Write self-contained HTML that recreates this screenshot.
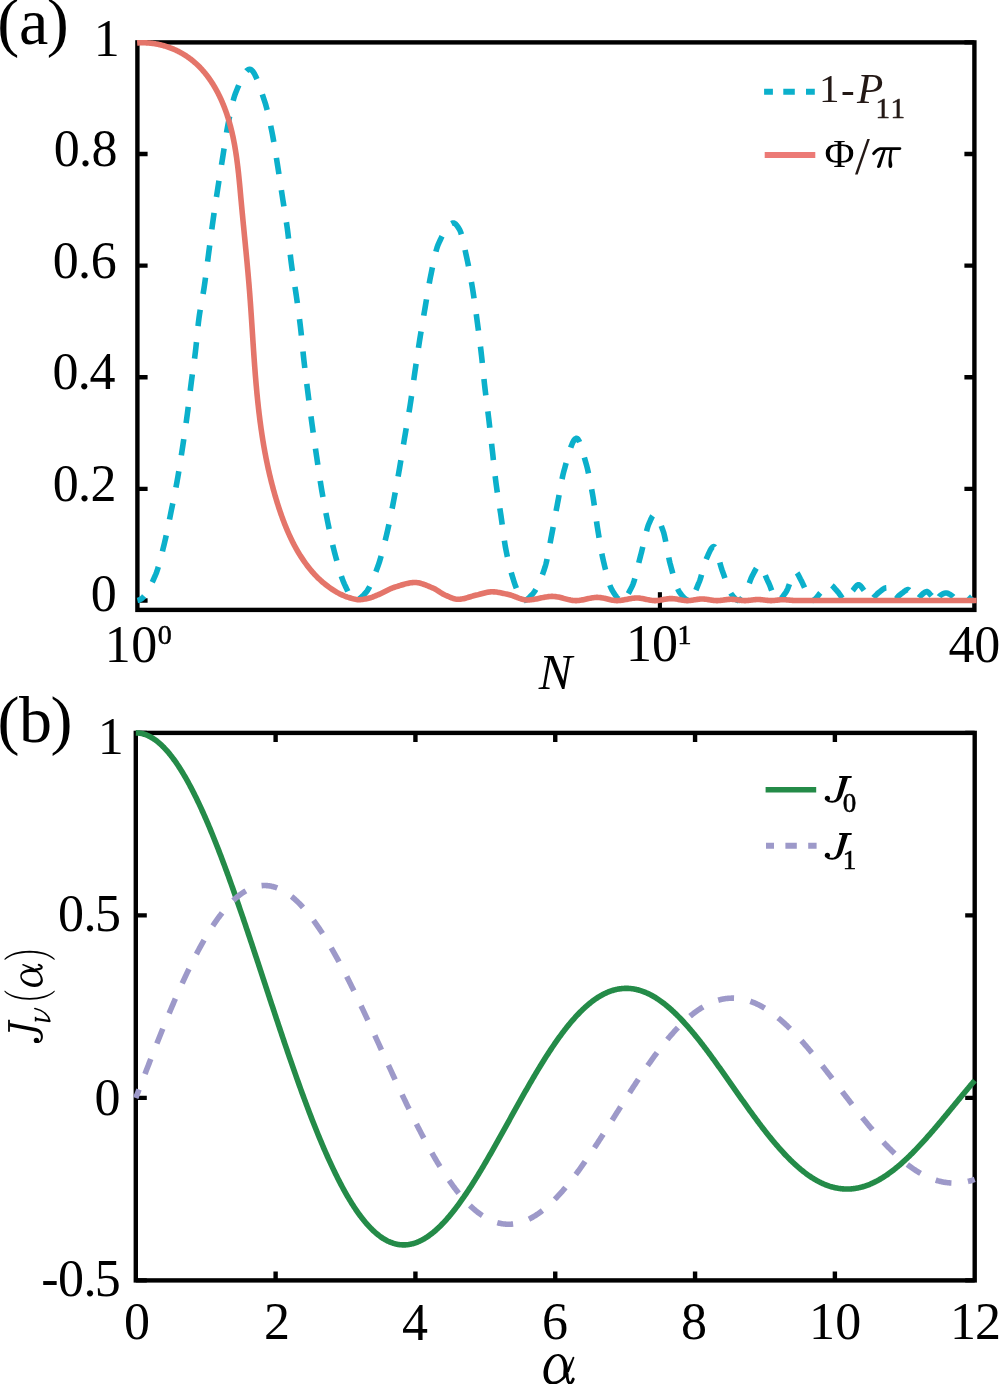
<!DOCTYPE html><html><head><meta charset="utf-8"><style>html,body{margin:0;padding:0;background:#fff;}svg{display:block;}text{font-family:'Liberation Serif', serif;}</style></head><body>
<svg width="1000" height="1384" viewBox="0 0 1000 1384">
<rect width="1000" height="1384" fill="#fff"/>
<rect x="137.4" y="42.4" width="837.0" height="567.5" fill="none" stroke="#000" stroke-width="4.4" stroke-linejoin="miter"/><path d="M137.4 600.50H147.6M974.4 600.50H964.4" stroke="#000" stroke-width="4.4"/><path d="M137.4 488.88H147.6M974.4 488.88H964.4" stroke="#000" stroke-width="4.4"/><path d="M137.4 377.26H147.6M974.4 377.26H964.4" stroke="#000" stroke-width="4.4"/><path d="M137.4 265.64H147.6M974.4 265.64H964.4" stroke="#000" stroke-width="4.4"/><path d="M137.4 154.02H147.6M974.4 154.02H964.4" stroke="#000" stroke-width="4.4"/><path d="M137.4 42.40H147.6M974.4 42.40H964.4" stroke="#000" stroke-width="4.4"/><path d="M659.9 609.9V592.2" stroke="#000" stroke-width="4.1"/>
<path d="M137.4 600.5L137.9 600.39L138.4 600.25L138.9 600.07L139.4 599.85L139.9 599.61L140.4 599.34L140.9 599.06L141.4 598.75L141.9 598.38L142.4 597.98L142.9 597.52L143.4 597.02L143.9 596.48L144.4 595.89L144.9 595.27L145.4 594.6L145.9 593.9L146.4 593.16L146.9 592.38L147.4 591.57L147.9 590.73L148.4 589.86L148.9 588.96L149.4 588.03L149.9 587.07L150.4 586.09L150.9 585.08L151.4 584.05L151.9 583L152.4 581.93L152.9 580.84L153.4 579.74L153.9 578.61L154.4 577.48L154.9 576.33L155.4 575.17L155.9 573.98L156.4 572.69L156.9 571.3L157.4 569.83L157.9 568.26L158.4 566.62L158.9 564.9L159.4 563.13L159.9 561.29L160.4 559.4L160.9 557.47L161.4 555.5L161.9 553.5L162.4 551.48L162.9 549.44L163.4 547.39L163.9 545.34L164.4 543.29L164.9 541.19L165.4 539.01L165.9 536.77L166.4 534.47L166.9 532.12L167.4 529.73L167.9 527.31L168.4 524.85L168.9 522.39L169.4 519.91L169.9 517.43L170.4 514.95L170.9 512.49L171.4 510.05L171.9 507.62L172.4 505.19L172.9 502.76L173.4 500.32L173.9 497.87L174.4 495.38L174.9 492.87L175.4 490.32L175.9 487.73L176.4 485.08L176.9 482.37L177.4 479.6L177.9 476.75L178.4 473.81L178.9 470.8L179.4 467.72L179.9 464.59L180.4 461.4L180.9 458.18L181.4 454.93L181.9 451.65L182.4 448.36L182.9 445.05L183.4 441.72L183.9 438.36L184.4 434.96L184.9 431.51L185.4 428.02L185.9 424.48L186.4 420.88L186.9 417.22L187.4 413.5L187.9 409.63L188.4 405.65L188.9 401.59L189.4 397.49L189.9 393.39L190.4 389.33L190.9 385.34L191.4 381.47L191.9 377.74L192.4 374.12L192.9 370.56L193.4 367L193.9 363.4L194.4 359.71L194.9 355.88L195.4 351.87L195.9 347.55L196.4 342.73L196.9 337.61L197.4 332.42L197.9 327.39L198.4 322.76L198.9 318.75L199.4 315.21L199.9 311.94L200.4 308.9L200.9 306.02L201.4 303.25L201.9 300.52L202.4 297.79L202.9 294.99L203.4 292.07L203.9 288.97L204.4 285.64L204.9 282.12L205.4 278.45L205.9 274.67L206.4 270.81L206.9 266.9L207.4 262.99L207.9 259.09L208.4 255.26L208.9 251.46L209.4 247.64L209.9 243.79L210.4 239.95L210.9 236.12L211.4 232.32L211.9 228.57L212.4 224.89L212.9 221.29L213.4 217.75L213.9 214.26L214.4 210.81L214.9 207.4L215.4 204.03L215.9 200.69L216.4 197.38L216.9 194.08L217.4 190.81L217.9 187.55L218.4 184.33L218.9 181.14L219.4 177.97L219.9 174.83L220.4 171.7L220.9 168.59L221.4 165.48L221.9 162.37L222.4 159.25L222.9 156.11L223.4 152.89L223.9 149.62L224.4 146.32L224.9 143.03L225.4 139.77L225.9 136.58L226.4 133.48L226.9 130.49L227.4 127.66L227.9 125.01L228.4 122.49L228.9 120L229.4 117.53L229.9 115.1L230.4 112.71L230.9 110.38L231.4 108.11L231.9 105.92L232.4 103.81L232.9 101.8L233.4 99.89L233.9 98.1L234.4 96.43L234.9 94.9L235.4 93.51L235.9 92.25L236.4 91L236.9 89.76L237.4 88.52L237.9 87.29L238.4 86.08L238.9 84.88L239.4 83.7L239.9 82.54L240.4 81.42L240.9 80.32L241.4 79.25L241.9 78.22L242.4 77.23L242.9 76.28L243.4 75.38L243.9 74.52L244.4 73.72L244.9 72.98L245.4 72.29L245.9 71.67L246.4 71.11L246.9 70.62L247.4 70.2L247.9 69.86L248.4 69.6L248.9 69.41L249.4 69.32L249.9 69.31L250.4 69.41L250.9 69.62L251.4 69.94L251.9 70.35L252.4 70.87L252.9 71.47L253.4 72.16L253.9 72.94L254.4 73.79L254.9 74.72L255.4 75.72L255.9 76.78L256.4 77.9L256.9 79.08L257.4 80.32L257.9 81.6L258.4 82.92L258.9 84.28L259.4 85.68L259.9 87.11L260.4 88.56L260.9 90.04L261.4 91.53L261.9 93.04L262.4 94.55L262.9 96.07L263.4 97.59L263.9 99.1L264.4 100.61L264.9 102.1L265.4 103.67L265.9 105.35L266.4 107.14L266.9 109.02L267.4 111L267.9 113.06L268.4 115.2L268.9 117.41L269.4 119.69L269.9 122.02L270.4 124.4L270.9 126.83L271.4 129.29L271.9 131.78L272.4 134.3L272.9 136.9L273.4 139.64L273.9 142.49L274.4 145.45L274.9 148.49L275.4 151.59L275.9 154.74L276.4 157.92L276.9 161.1L277.4 164.28L277.9 167.43L278.4 170.6L278.9 173.83L279.4 177.08L279.9 180.37L280.4 183.68L280.9 186.99L281.4 190.3L281.9 193.61L282.4 196.89L282.9 200.14L283.4 203.3L283.9 206.41L284.4 209.49L284.9 212.58L285.4 215.7L285.9 218.9L286.4 222.19L286.9 225.62L287.4 229.21L287.9 233.04L288.4 237.28L288.9 241.8L289.4 246.48L289.9 251.17L290.4 255.73L290.9 260.04L291.4 263.95L291.9 267.55L292.4 270.94L292.9 274.19L293.4 277.32L293.9 280.39L294.4 283.44L294.9 286.53L295.4 289.68L295.9 292.96L296.4 296.4L296.9 299.92L297.4 303.47L297.9 307.07L298.4 310.74L298.9 314.51L299.4 318.37L299.9 322.37L300.4 326.5L300.9 330.85L301.4 335.58L301.9 340.56L302.4 345.66L302.9 350.72L303.4 355.61L303.9 360.19L304.4 364.54L304.9 368.76L305.4 372.88L305.9 376.92L306.4 380.9L306.9 384.84L307.4 388.77L307.9 392.7L308.4 396.63L308.9 400.53L309.4 404.41L309.9 408.25L310.4 412.06L310.9 415.83L311.4 419.57L311.9 423.27L312.4 426.92L312.9 430.54L313.4 434.12L313.9 437.68L314.4 441.2L314.9 444.69L315.4 448.16L315.9 451.61L316.4 455.04L316.9 458.45L317.4 461.88L317.9 465.3L318.4 468.72L318.9 472.11L319.4 475.46L319.9 478.76L320.4 481.99L320.9 485.15L321.4 488.21L321.9 491.17L322.4 494.07L322.9 496.92L323.4 499.73L323.9 502.48L324.4 505.18L324.9 507.84L325.4 510.46L325.9 513.03L326.4 515.57L326.9 518.06L327.4 520.53L327.9 522.96L328.4 525.37L328.9 527.77L329.4 530.15L329.9 532.5L330.4 534.82L330.9 537.11L331.4 539.36L331.9 541.58L332.4 543.74L332.9 545.86L333.4 547.93L333.9 549.94L334.4 551.89L334.9 553.77L335.4 555.64L335.9 557.49L336.4 559.34L336.9 561.17L337.4 562.99L337.9 564.78L338.4 566.54L338.9 568.27L339.4 569.97L339.9 571.63L340.4 573.24L340.9 574.81L341.4 576.32L341.9 577.78L342.4 579.18L342.9 580.51L343.4 581.77L343.9 582.96L344.4 584.08L344.9 585.13L345.4 586.19L345.9 587.26L346.4 588.33L346.9 589.4L347.4 590.46L347.9 591.51L348.4 592.53L348.9 593.52L349.4 594.47L349.9 595.38L350.4 596.24L350.9 597.04L351.4 597.77L351.9 598.43L352.4 599.01L352.9 599.51L353.4 599.91L353.9 600.22L354.4 600.41L354.9 600.5L355 600.5" fill="none" stroke="#0BB0CB" stroke-width="5.6" stroke-dasharray="16.5 16.1" stroke-dashoffset="8.26" stroke-linejoin="round"/>
<path d="M355 600.5L355.5 600.47L356 600.4L356.5 600.28L357 600.11L357.5 599.91L358 599.66L358.5 599.38L359 599.06L359.5 598.71L360 598.34L360.5 597.93L361 597.51L361.5 597.06L362 596.59L362.5 596.11L363 595.61L363.5 595.1L364 594.58L364.5 594.06L365 593.53L365.5 593L366 592.44L366.5 591.82L367 591.13L367.5 590.4L368 589.6L368.5 588.76L369 587.86L369.5 586.92L370 585.93L370.5 584.9L371 583.83L371.5 582.72L372 581.58L372.5 580.4L373 579.2L373.5 577.96L374 576.7L374.5 575.42L375 574.12L375.5 572.8L376 571.46L376.5 570.11L377 568.75L377.5 567.38L378 566L378.5 564.59L379 563.11L379.5 561.56L380 559.95L380.5 558.29L381 556.57L381.5 554.8L382 552.99L382.5 551.13L383 549.23L383.5 547.29L384 545.32L384.5 543.33L385 541.3L385.5 539.25L386 537.18L386.5 535.1L387 533L387.5 530.86L388 528.66L388.5 526.39L389 524.06L389.5 521.69L390 519.27L390.5 516.81L391 514.31L391.5 511.79L392 509.24L392.5 506.68L393 504.1L393.5 501.52L394 498.92L394.5 496.29L395 493.62L395.5 490.91L396 488.18L396.5 485.42L397 482.64L397.5 479.83L398 477L398.5 474.16L399 471.3L399.5 468.42L400 465.51L400.5 462.56L401 459.58L401.5 456.57L402 453.54L402.5 450.5L403 447.46L403.5 444.42L404 441.39L404.5 438.39L405 435.42L405.5 432.49L406 429.6L406.5 426.73L407 423.88L407.5 421.02L408 418.13L408.5 415.22L409 412.25L409.5 409.22L410 406.11L410.5 402.9L411 399.57L411.5 396.13L412 392.6L412.5 389.01L413 385.4L413.5 381.79L414 378.2L414.5 374.67L415 371.22L415.5 367.79L416 364.37L416.5 360.96L417 357.58L417.5 354.21L418 350.88L418.5 347.58L419 344.33L419.5 341.13L420 337.99L420.5 334.89L421 331.83L421.5 328.8L422 325.8L422.5 322.83L423 319.89L423.5 316.95L424 314.03L424.5 311.11L425 308.2L425.5 305.26L426 302.3L426.5 299.31L427 296.33L427.5 293.36L428 290.42L428.5 287.53L429 284.71L429.5 281.97L430 279.32L430.5 276.78L431 274.34L431.5 271.88L432 269.42L432.5 266.95L433 264.51L433.5 262.11L434 259.76L434.5 257.48L435 255.29L435.5 253.21L436 251.25L436.5 249.43L437 247.76L437.5 246.27L438 244.96L438.5 243.83L439 242.72L439.5 241.62L440 240.54L440.5 239.47L441 238.41L441.5 237.37L442 236.36L442.5 235.36L443 234.39L443.5 233.45L444 232.53L444.5 231.65L445 230.79L445.5 229.97L446 229.19L446.5 228.44L447 227.73L447.5 227.07L448 226.44L448.5 225.87L449 225.34L449.5 224.86L450 224.42L450.5 224.05L451 223.72L451.5 223.46L452 223.25L452.5 223.11L453 223.02L453.5 223L454 223.09L454.5 223.29L455 223.6L455.5 224L456 224.49L456.5 225.05L457 225.68L457.5 226.36L458 227.1L458.5 227.86L459 228.65L459.5 229.47L460 230.46L460.5 231.69L461 233.14L461.5 234.78L462 236.59L462.5 238.55L463 240.63L463.5 242.8L464 245.06L464.5 247.36L465 249.69L465.5 252.02L466 254.33L466.5 256.6L467 258.88L467.5 261.22L468 263.64L468.5 266.13L469 268.68L469.5 271.31L470 274L470.5 276.75L471 279.57L471.5 282.45L472 285.39L472.5 288.39L473 291.48L473.5 294.72L474 298.07L474.5 301.54L475 305.09L475.5 308.71L476 312.38L476.5 316.09L477 319.81L477.5 323.54L478 327.29L478.5 331.08L479 334.93L479.5 338.85L480 342.84L480.5 346.93L481 351.13L481.5 355.46L482 360.06L482.5 364.88L483 369.8L483.5 374.74L484 379.58L484.5 384.22L485 388.59L485.5 392.78L486 396.82L486.5 400.79L487 404.71L487.5 408.64L488 412.63L488.5 416.72L489 420.95L489.5 425.26L490 429.64L490.5 434.07L491 438.52L491.5 442.99L492 447.45L492.5 451.89L493 456.42L493.5 461.05L494 465.7L494.5 470.29L495 474.76L495.5 479.02L496 483L496.5 486.71L497 490.24L497.5 493.61L498 496.86L498.5 500.04L499 503.17L499.5 506.3L500 509.45L500.5 512.68L501 516L501.5 519.49L502 523.14L502.5 526.88L503 530.64L503.5 534.36L504 537.97L504.5 541.4L505 544.59L505.5 547.47L506 550.07L506.5 552.57L507 554.99L507.5 557.33L508 559.58L508.5 561.76L509 563.87L509.5 565.9L510 567.87L510.5 569.77L511 571.61L511.5 573.39L512 575.12L512.5 576.79L513 578.42L513.5 580L514 581.55L514.5 583.06L515 584.53L515.5 585.96L516 587.32L516.5 588.63L517 589.85L517.5 591L518 592.05L518.5 593L519 593.92L519.5 594.86L520 595.8L520.5 596.71L521 597.58L521.5 598.37L522 599.08L522.5 599.67L523 600.11L523.5 600.4L524 600.5" fill="none" stroke="#0BB0CB" stroke-width="5.6" stroke-dasharray="16.5 16.1" stroke-dashoffset="28.18" stroke-linejoin="round"/>
<path d="M524 600.5L524.5 600.47L525 600.37L525.5 600.2L526 599.99L526.5 599.71L527 599.4L527.5 599.04L528 598.64L528.5 598.2L529 597.74L529.5 597.26L530 596.75L530.5 596.23L531 595.7L531.5 595.16L532 594.62L532.5 594.08L533 593.51L533.5 592.88L534 592.22L534.5 591.51L535 590.75L535.5 589.95L536 589.11L536.5 588.23L537 587.3L537.5 586.33L538 585.33L538.5 584.28L539 583.19L539.5 582.06L540 580.9L540.5 579.69L541 578.45L541.5 577.17L542 575.85L542.5 574.5L543 573.11L543.5 571.68L544 570.22L544.5 568.73L545 567.2L545.5 565.54L546 563.65L546.5 561.57L547 559.32L547.5 556.92L548 554.41L548.5 551.81L549 549.14L549.5 546.43L550 543.7L550.5 540.99L551 538.32L551.5 535.71L552 533.14L552.5 530.53L553 527.87L553.5 525.18L554 522.46L554.5 519.73L555 517L555.5 514.26L556 511.54L556.5 508.83L557 506.16L557.5 503.52L558 500.89L558.5 498.18L559 495.42L559.5 492.64L560 489.86L560.5 487.11L561 484.41L561.5 481.79L562 479.27L562.5 476.88L563 474.65L563.5 472.6L564 470.74L564.5 468.94L565 467.13L565.5 465.3L566 463.47L566.5 461.65L567 459.84L567.5 458.05L568 456.29L568.5 454.56L569 452.89L569.5 451.26L570 449.69L570.5 448.19L571 446.77L571.5 445.43L572 444.18L572.5 443.03L573 441.98L573.5 441.05L574 440.24L574.5 439.56L575 439.02L575.5 438.63L576 438.38L576.5 438.3L577 438.41L577.5 438.75L578 439.28L578.5 440L579 440.9L579.5 441.95L580 443.15L580.5 444.47L581 445.91L581.5 447.45L582 449.06L582.5 450.75L583 452.49L583.5 454.27L584 456.07L584.5 457.88L585 459.68L585.5 461.46L586 463.2L586.5 464.98L587 466.89L587.5 468.91L588 471.04L588.5 473.27L589 475.59L589.5 478.01L590 480.5L590.5 483.07L591 485.71L591.5 488.41L592 491.17L592.5 493.97L593 496.86L593.5 500.01L594 503.37L594.5 506.9L595 510.52L595.5 514.17L596 517.8L596.5 521.34L597 524.73L597.5 527.92L598 531.04L598.5 534.16L599 537.27L599.5 540.33L600 543.34L600.5 546.27L601 549.11L601.5 551.84L602 554.44L602.5 556.89L603 559.17L603.5 561.32L604 563.45L604.5 565.56L605 567.65L605.5 569.69L606 571.7L606.5 573.66L607 575.56L607.5 577.39L608 579.16L608.5 580.85L609 582.46L609.5 583.98L610 585.4L610.5 586.72L611 587.93L611.5 589.02L612 589.98L612.5 590.83L613 591.65L613.5 592.46L614 593.25L614.5 594.03L615 594.79L615.5 595.52L616 596.22L616.5 596.89L617 597.51L617.5 598.09L618 598.61L618.5 599.09L619 599.5L619.5 599.85L620 600.13L620.5 600.33L621 600.46L621.5 600.5" fill="none" stroke="#0BB0CB" stroke-width="5.6" stroke-dasharray="16.5 16.1" stroke-dashoffset="32.48" stroke-linejoin="round"/>
<path d="M621.5 600.5L622 600.45L622.5 600.31L623 600.09L623.5 599.78L624 599.39L624.5 598.93L625 598.4L625.5 597.81L626 597.16L626.5 596.46L627 595.7L627.5 594.91L628 594.07L628.5 593.2L629 592.29L629.5 591.36L630 590.41L630.5 589.45L631 588.47L631.5 587.49L632 586.5L632.5 585.43L633 584.19L633.5 582.81L634 581.29L634.5 579.65L635 577.91L635.5 576.08L636 574.17L636.5 572.2L637 570.19L637.5 568.14L638 566.08L638.5 564.01L639 561.96L639.5 559.93L640 557.95L640.5 556.02L641 554.15L641.5 552.21L642 550.19L642.5 548.11L643 545.97L643.5 543.82L644 541.65L644.5 539.49L645 537.36L645.5 535.27L646 533.25L646.5 531.31L647 529.48L647.5 527.76L648 526.19L648.5 524.77L649 523.53L649.5 522.4L650 521.26L650.5 520.13L651 519.03L651.5 517.99L652 517.03L652.5 516.19L653 515.49L653.5 514.96L654 514.62L654.5 514.5L655 514.58L655.5 514.83L656 515.23L656.5 515.76L657 516.43L657.5 517.22L658 518.11L658.5 519.1L659 520.18L659.5 521.33L660 522.55L660.5 523.83L661 525.14L661.5 526.5L662 527.87L662.5 529.26L663 530.65L663.5 532.09L664 533.82L664.5 535.82L665 538.05L665.5 540.46L666 543.01L666.5 545.65L667 548.35L667.5 551.05L668 553.72L668.5 556.31L669 558.77L669.5 561.06L670 563.14L670.5 565.01L671 566.88L671.5 568.74L672 570.6L672.5 572.44L673 574.27L673.5 576.06L674 577.81L674.5 579.52L675 581.17L675.5 582.76L676 584.28L676.5 585.72L677 587.07L677.5 588.32L678 589.47L678.5 590.51L679 591.43L679.5 592.22L680 592.9L680.5 593.56L681 594.21L681.5 594.85L682 595.47L682.5 596.07L683 596.64L683.5 597.19L684 597.71L684.5 598.19L685 598.64L685.5 599.05L686 599.42L686.5 599.73L687 600L687.5 600.21L688 600.37L688.5 600.47L689 600.5" fill="none" stroke="#0BB0CB" stroke-width="5.6" stroke-dasharray="16.5 16.1" stroke-dashoffset="22.57" stroke-linejoin="round"/>
<path d="M689 600.5L689.5 600.42L690 600.21L690.5 599.85L691 599.38L691.5 598.78L692 598.08L692.5 597.29L693 596.41L693.5 595.45L694 594.42L694.5 593.33L695 592.2L695.5 591.02L696 589.82L696.5 588.6L697 587.36L697.5 586.12L698 584.9L698.5 583.68L699 582.5L699.5 581.24L700 579.83L700.5 578.28L701 576.63L701.5 574.89L702 573.09L702.5 571.26L703 569.43L703.5 567.61L704 565.83L704.5 564.13L705 562.52L705.5 561.03L706 559.68L706.5 558.5L707 557.4L707.5 556.27L708 555.13L708.5 554L709 552.9L709.5 551.83L710 550.81L710.5 549.87L711 549.01L711.5 548.25L712 547.6L712.5 547.09L713 546.73L713.5 546.53L714 546.53L714.5 546.83L715 547.43L715.5 548.31L716 549.43L716.5 550.76L717 552.26L717.5 553.91L718 555.67L718.5 557.51L719 559.4L719.5 561.31L720 563.2L720.5 565.05L721 566.81L721.5 568.47L722 569.98L722.5 571.33L723 572.68L723.5 574.06L724 575.47L724.5 576.89L725 578.32L725.5 579.75L726 581.18L726.5 582.59L727 583.98L727.5 585.33L728 586.65L728.5 587.93L729 589.15L729.5 590.31L730 591.41L730.5 592.43L731 593.37L731.5 594.21L732 594.96L732.5 595.6L733 596.19L733.5 596.78L734 597.35L734.5 597.91L735 598.44L735.5 598.93L736 599.37L736.5 599.75L737 600.06L737.5 600.3L738 600.45L738.5 600.5" fill="none" stroke="#0BB0CB" stroke-width="5.6" stroke-dasharray="16.5 16.1" stroke-dashoffset="19.75" stroke-linejoin="round"/>
<path d="M738.5 600.5L739 600.43L739.5 600.25L740 599.95L740.5 599.55L741 599.06L741.5 598.51L742 597.88L742.5 597.21L743 596.5L743.5 595.76L744 595L744.5 594.25L745 593.5L745.5 592.68L746 591.71L746.5 590.62L747 589.42L747.5 588.13L748 586.79L748.5 585.4L749 583.99L749.5 582.59L750 581.21L750.5 579.88L751 578.61L751.5 577.43L752 576.36L752.5 575.42L753 574.5L753.5 573.54L754 572.58L754.5 571.61L755 570.66L755.5 569.75L756 568.88L756.5 568.08L757 567.35L757.5 566.73L758 566.21L758.5 565.83L759 565.58L759.5 565.5L760 565.61L760.5 565.91L761 566.4L761.5 567.04L762 567.83L762.5 568.74L763 569.76L763.5 570.86L764 572.02L764.5 573.23L765 574.47L765.5 575.72L766 576.95L766.5 578.16L767 579.31L767.5 580.39L768 581.4L768.5 582.44L769 583.57L769.5 584.78L770 586.05L770.5 587.36L771 588.69L771.5 590.03L772 591.36L772.5 592.66L773 593.92L773.5 595.12L774 596.24L774.5 597.27L775 598.19L775.5 598.97L776 599.62L776.5 600.1L777 600.4L777.5 600.5" fill="none" stroke="#0BB0CB" stroke-width="5.6" stroke-dasharray="16.5 16.1" stroke-dashoffset="11.63" stroke-linejoin="round"/>
<path d="M777.5 600.5L778 600.45L778.5 600.32L779 600.1L779.5 599.8L780 599.44L780.5 599.01L781 598.53L781.5 598L782 597.43L782.5 596.83L783 596.2L783.5 595.54L784 594.88L784.5 594.2L785 593.53L785.5 592.86L786 592.17L786.5 591.32L787 590.32L787.5 589.18L788 587.94L788.5 586.6L789 585.21L789.5 583.78L790 582.33L790.5 580.88L791 579.46L791.5 578.1L792 576.81L792.5 575.62L793 574.55L793.5 573.62L794 572.86L794.5 572.29L795 571.93L795.5 571.8L796 571.92L796.5 572.27L797 572.81L797.5 573.51L798 574.34L798.5 575.26L799 576.25L799.5 577.27L800 578.29L800.5 579.28L801 580.2L801.5 581.12L802 582.11L802.5 583.16L803 584.24L803.5 585.34L804 586.44L804.5 587.53L805 588.58L805.5 589.57L806 590.5L806.5 591.42L807 592.41L807.5 593.43L808 594.46L808.5 595.48L809 596.47L809.5 597.4L810 598.25L810.5 599L811 599.62L811.5 600.09L812 600.39L812.5 600.5" fill="none" stroke="#0BB0CB" stroke-width="5.6" stroke-dasharray="16.5 16.1" stroke-dashoffset="28.10" stroke-linejoin="round"/>
<path d="M812.5 600.5L813 600.44L813.5 600.28L814 600.02L814.5 599.68L815 599.26L815.5 598.78L816 598.25L816.5 597.67L817 597.06L817.5 596.42L818 595.77L818.5 595.12L819 594.48L819.5 593.86L820 593.26L820.5 592.71L821 592.19L821.5 591.64L822 591.04L822.5 590.4L823 589.73L823.5 589.05L824 588.37L824.5 587.7L825 587.05L825.5 586.43L826 585.85L826.5 585.34L827 584.89L827.5 584.52L828 584.24L828.5 584.06L829 584L829.5 584.05L830 584.18L830.5 584.4L831 584.69L831.5 585.05L832 585.46L832.5 585.93L833 586.43L833.5 586.97L834 587.53L834.5 588.11L835 588.7L835.5 589.29L836 589.87L836.5 590.44L837 590.99L837.5 591.5L838 592.04L838.5 592.64L839 593.31L839.5 594.02L840 594.76L840.5 595.51L841 596.26L841.5 596.99L842 597.69L842.5 598.35L843 598.94L843.5 599.47L844 599.9L844.5 600.22L845 600.43L845.5 600.5" fill="none" stroke="#0BB0CB" stroke-width="5.6" stroke-dasharray="16.5 16.1" stroke-dashoffset="5.43" stroke-linejoin="round"/>
<path d="M845.5 600.5L846 600.4L846.5 600.11L847 599.66L847.5 599.07L848 598.37L848.5 597.57L849 596.71L849.5 595.81L850 594.89L850.5 593.97L851 593.08L851.5 592.24L852 591.48L852.5 590.82L853 590.22L853.5 589.58L854 588.92L854.5 588.25L855 587.59L855.5 586.96L856 586.38L856.5 585.86L857 585.42L857.5 585.09L858 584.88L858.5 584.8L859 584.88L859.5 585.11L860 585.47L860.5 585.93L861 586.47L861.5 587.08L862 587.73L862.5 588.4L863 589.07L863.5 589.71L864 590.32L864.5 591L865 591.79L865.5 592.66L866 593.59L866.5 594.56L867 595.53L867.5 596.49L868 597.4L868.5 598.24L869 598.98L869.5 599.61L870 600.09L870.5 600.39L871 600.5" fill="none" stroke="#0BB0CB" stroke-width="5.6" stroke-dasharray="16.5 16.1" stroke-dashoffset="20.16" stroke-linejoin="round"/>
<path d="M871 600.5L871.5 600.34L872 599.91L872.5 599.3L873 598.59L873.5 597.87L874 597.22L874.5 596.69L875 596.17L875.5 595.65L876 595.13L876.5 594.62L877 594.11L877.5 593.63L878 593.16L878.5 592.72L879 592.31L879.5 591.93L880 591.54L880.5 591.15L881 590.74L881.5 590.34L882 589.95L882.5 589.57L883 589.21L883.5 588.87L884 588.57L884.5 588.31L885 588.1L885.5 587.94L886 587.84L886.5 587.8L887 587.91L887.5 588.2L888 588.66L888.5 589.23L889 589.88L889.5 590.59L890 591.31L890.5 592L891 592.82L891.5 593.88L892 595.1L892.5 596.37L893 597.62L893.5 598.74L894 599.66L894.5 600.27L895 600.5" fill="none" stroke="#0BB0CB" stroke-width="5.6" stroke-dasharray="16.5 16.1" stroke-dashoffset="28.79" stroke-linejoin="round"/>
<path d="M895 600.5L895.5 600.24L896 599.6L896.5 598.74L897 597.85L897.5 597.11L898 596.58L898.5 596.09L899 595.62L899.5 595.17L900 594.75L900.5 594.34L901 593.95L901.5 593.58L902 593.21L902.5 592.86L903 592.48L903.5 592.08L904 591.68L904.5 591.29L905 590.91L905.5 590.55L906 590.24L906.5 589.98L907 589.78L907.5 589.65L908 589.6L908.5 589.71L909 590.01L909.5 590.47L910 591.05L910.5 591.72L911 592.43L911.5 593.16L912 593.86L912.5 594.5L913 595.18L913.5 595.98L914 596.85L914.5 597.74L915 598.59L915.5 599.34L916 599.95L916.5 600.35L917 600.5" fill="none" stroke="#0BB0CB" stroke-width="5.6" stroke-dasharray="16.5 16.1" stroke-dashoffset="30.22" stroke-linejoin="round"/>
<path d="M917 600.5L917.5 600.26L918 599.65L918.5 598.82L919 597.93L919.5 597.15L920 596.6L920.5 596.11L921 595.6L921.5 595.1L922 594.6L922.5 594.13L923 593.67L923.5 593.24L924 592.84L924.5 592.49L925 592.19L925.5 591.94L926 591.76L926.5 591.64L927 591.6L927.5 591.71L928 592.02L928.5 592.47L929 593.01L929.5 593.6L930 594.18L930.5 594.71L931 595.2L931.5 595.75L932 596.36L932.5 597L933 597.64L933.5 598.27L934 598.86L934.5 599.39L935 599.84L935.5 600.19L936 600.42L936.5 600.5" fill="none" stroke="#0BB0CB" stroke-width="5.6" stroke-dasharray="16.5 16.1" stroke-dashoffset="28.92" stroke-linejoin="round"/>
<path d="M936.5 600.5L937 600.29L937.5 599.74L938 598.95L938.5 598.03L939 597.11L939.5 596.28L940 595.66L940.5 595.3L941 594.97L941.5 594.65L942 594.35L942.5 594.06L943 593.81L943.5 593.58L944 593.38L944.5 593.22L945 593.1L945.5 593.03L946 593L946.5 593.03L947 593.11L947.5 593.24L948 593.42L948.5 593.63L949 593.88L949.5 594.16L950 594.46L950.5 594.78L951 595.12L951.5 595.47L952 595.83L952.5 596.19L953 596.56L953.5 597.1L954 597.77L954.5 598.49L955 599.21L955.5 599.83L956 600.28L956.5 600.49L956.6 600.5" fill="none" stroke="#0BB0CB" stroke-width="5.6" stroke-dasharray="16.5 16.1" stroke-dashoffset="27.90" stroke-linejoin="round"/>
<path d="M956.6 600.5L957.1 600.44L957.6 600.28L958.1 600.02L958.6 599.68L959.1 599.29L959.6 598.84L960.1 598.36L960.6 597.85L961.1 597.35L961.6 596.85L962.1 596.37L962.6 595.93L963.1 595.54L963.6 595.22L964.1 594.98L964.6 594.84L965.1 594.8L965.6 594.89L966.1 595.07L966.6 595.35L967.1 595.71L967.6 596.13L968.1 596.59L968.6 597.09L969.1 597.6L969.6 598.11L970.1 598.61L970.6 599.08L971.1 599.51L971.6 599.88L972.1 600.18L972.6 600.39L973.1 600.49L973.6 600.46L974.1 600.25L974.4 600.1" fill="none" stroke="#0BB0CB" stroke-width="5.6" stroke-dasharray="16.5 16.1" stroke-dashoffset="18.68" stroke-linejoin="round"/>
<path d="M137.13 42.95L137.9 42.9L138.66 42.86L139.42 42.82L140.19 42.8L140.95 42.78L141.71 42.77L142.47 42.76L143.22 42.76L143.98 42.78L144.74 42.79L145.49 42.82L146.25 42.85L147 42.89L147.75 42.94L148.5 42.99L149.25 43.05L149.99 43.12L150.74 43.2L151.48 43.28L152.23 43.37L152.97 43.47L153.71 43.57L154.44 43.68L155.18 43.8L155.92 43.92L156.65 44.06L157.38 44.19L158.11 44.34L158.83 44.49L159.56 44.65L160.28 44.81L161 44.99L161.72 45.16L162.44 45.35L163.15 45.54L163.86 45.74L164.57 45.94L165.28 46.15L165.99 46.37L166.69 46.6L167.39 46.83L168.09 47.06L168.78 47.31L169.48 47.56L170.17 47.81L170.86 48.07L171.54 48.34L172.22 48.61L172.9 48.89L173.58 49.18L174.25 49.47L174.92 49.77L175.59 50.08L176.25 50.39L176.92 50.7L177.57 51.02L178.23 51.35L178.88 51.69L179.53 52.03L180.18 52.37L180.82 52.72L181.46 53.08L182.09 53.44L182.73 53.81L183.35 54.18L183.98 54.56L184.6 54.95L185.22 55.34L185.83 55.73L186.44 56.13L187.05 56.54L187.65 56.95L188.25 57.37L188.85 57.79L189.44 58.22L190.03 58.65L190.61 59.09L191.19 59.54L191.76 59.99L192.34 60.44L192.9 60.9L193.47 61.36L194.02 61.83L194.58 62.31L195.13 62.79L195.67 63.27L196.21 63.76L196.75 64.25L197.28 64.75L197.81 65.26L198.33 65.76L198.85 66.28L199.37 66.79L199.88 67.31L200.38 67.84L200.88 68.37L201.38 68.91L201.88 69.44L202.36 69.99L202.85 70.53L203.33 71.09L203.81 71.64L204.28 72.2L204.75 72.76L205.21 73.33L205.67 73.9L206.13 74.47L206.58 75.05L207.03 75.63L207.47 76.22L207.91 76.8L208.34 77.39L208.78 77.99L209.2 78.59L209.63 79.19L210.05 79.79L210.46 80.4L210.87 81.01L211.28 81.62L211.68 82.24L212.08 82.85L212.48 83.48L212.87 84.1L213.26 84.73L213.64 85.35L214.03 85.99L214.4 86.62L214.78 87.26L215.14 87.89L215.51 88.53L215.87 89.18L216.23 89.82L216.58 90.47L216.93 91.12L217.28 91.77L217.62 92.42L217.96 93.08L218.3 93.73L218.63 94.39L218.96 95.05L219.29 95.71L219.61 96.37L219.92 97.04L220.24 97.7L220.55 98.37L220.86 99.04L221.16 99.7L221.46 100.37L221.76 101.04L222.05 101.72L222.34 102.39L222.63 103.06L222.91 103.74L223.19 104.42L223.47 105.09L223.74 105.77L224.01 106.45L224.28 107.13L224.54 107.81L224.8 108.49L225.06 109.18L225.31 109.86L225.56 110.54L225.81 111.23L226.06 111.92L226.3 112.61L226.54 113.29L226.77 113.98L227 114.67L227.23 115.37L227.46 116.06L227.69 116.75L227.91 117.44L228.12 118.14L228.34 118.84L228.55 119.53L228.76 120.23L228.97 120.93L229.18 121.63L229.38 122.33L229.58 123.03L229.77 123.73L229.97 124.43L230.16 125.13L230.35 125.84L230.53 126.54L230.72 127.25L230.9 127.95L231.08 128.66L231.26 129.37L231.43 130.07L231.6 130.78L231.77 131.49L231.94 132.2L232.11 132.91L232.27 133.62L232.43 134.34L232.59 135.05L232.74 135.76L232.9 136.48L233.05 137.19L233.2 137.91L233.35 138.62L233.49 139.34L233.64 140.06L233.78 140.78L233.92 141.49L234.06 142.21L234.19 142.93L234.33 143.65L234.46 144.37L234.59 145.09L234.72 145.82L234.85 146.54L234.97 147.26L235.09 147.98L235.22 148.71L235.34 149.43L235.45 150.16L235.57 150.88L235.69 151.61L235.8 152.33L235.91 153.06L236.02 153.79L236.13 154.51L236.24 155.24L236.35 155.97L236.45 156.7L236.55 157.43L236.66 158.16L236.76 158.89L236.86 159.62L236.95 160.35L237.05 161.08L237.15 161.81L237.24 162.54L237.33 163.27L237.43 164.01L237.52 164.74L237.61 165.47L237.69 166.21L237.78 166.94L237.87 167.67L237.95 168.41L238.04 169.14L238.12 169.88L238.21 170.61L238.29 171.35L238.37 172.08L238.45 172.82L238.53 173.55L238.61 174.29L238.68 175.02L238.76 175.76L238.84 176.5L238.91 177.23L238.99 177.97L239.06 178.71L239.14 179.45L239.21 180.18L239.28 180.92L239.36 181.66L239.43 182.4L239.5 183.13L239.57 183.87L239.64 184.61L239.71 185.35L239.78 186.09L239.85 186.82L239.92 187.56L239.99 188.3L240.05 189.04L240.12 189.78L240.19 190.52L240.26 191.26L240.32 191.99L240.39 192.73L240.46 193.47L240.53 194.21L240.59 194.95L240.66 195.69L240.73 196.42L240.79 197.16L240.86 197.9L240.93 198.64L241 199.38L241.06 200.12L241.13 200.85L241.2 201.59L241.27 202.33L241.34 203.07L241.4 203.81L241.47 204.54L241.54 205.28L241.61 206.02L241.68 206.76L241.75 207.49L241.82 208.23L241.89 208.97L241.96 209.7L242.03 210.44L242.1 211.18L242.17 211.91L242.24 212.65L242.31 213.39L242.38 214.12L242.45 214.86L242.52 215.6L242.59 216.33L242.66 217.07L242.73 217.8L242.8 218.54L242.87 219.27L242.94 220.01L243.01 220.75L243.09 221.48L243.16 222.22L243.23 222.95L243.3 223.69L243.37 224.42L243.44 225.16L243.51 225.89L243.59 226.63L243.66 227.36L243.73 228.1L243.8 228.83L243.87 229.57L243.94 230.3L244.02 231.04L244.09 231.77L244.16 232.51L244.23 233.24L244.3 233.97L244.38 234.71L244.45 235.44L244.52 236.18L244.59 236.91L244.66 237.64L244.73 238.38L244.81 239.11L244.88 239.85L244.95 240.58L245.02 241.31L245.09 242.05L245.16 242.78L245.23 243.51L245.31 244.25L245.38 244.98L245.45 245.72L245.52 246.45L245.59 247.18L245.66 247.91L245.73 248.65L245.8 249.38L245.87 250.11L245.94 250.85L246.01 251.58L246.08 252.31L246.15 253.05L246.22 253.78L246.29 254.51L246.36 255.24L246.43 255.98L246.5 256.71L246.57 257.44L246.64 258.18L246.71 258.91L246.78 259.64L246.85 260.37L246.92 261.11L246.98 261.84L247.05 262.57L247.12 263.3L247.19 264.04L247.26 264.77L247.32 265.5L247.39 266.23L247.46 266.96L247.52 267.7L247.59 268.43L247.66 269.16L247.72 269.89L247.79 270.63L247.85 271.36L247.92 272.09L247.98 272.82L248.05 273.55L248.11 274.29L248.18 275.02L248.24 275.75L248.31 276.48L248.37 277.21L248.43 277.95L248.5 278.68L248.56 279.41L248.62 280.14L248.68 280.87L248.74 281.61L248.81 282.34L248.87 283.07L248.93 283.8L248.99 284.53L249.05 285.26L249.11 286L249.17 286.73L249.23 287.46L249.29 288.19L249.35 288.92L249.4 289.66L249.46 290.39L249.52 291.12L249.58 291.85L249.63 292.58L249.69 293.32L249.75 294.05L249.8 294.78L249.86 295.51L249.91 296.24L249.97 296.97L250.02 297.71L250.08 298.44L250.13 299.17L250.18 299.9L250.24 300.63L250.29 301.37L250.34 302.1L250.4 302.83L250.45 303.56L250.5 304.29L250.55 305.02L250.6 305.76L250.66 306.49L250.71 307.22L250.76 307.95L250.81 308.68L250.86 309.41L250.91 310.15L250.96 310.88L251.01 311.61L251.06 312.34L251.11 313.07L251.16 313.8L251.21 314.54L251.26 315.27L251.31 316L251.36 316.73L251.4 317.46L251.45 318.19L251.5 318.93L251.55 319.66L251.6 320.39L251.65 321.12L251.69 321.85L251.74 322.58L251.79 323.32L251.84 324.05L251.89 324.78L251.93 325.51L251.98 326.24L252.03 326.97L252.08 327.7L252.12 328.44L252.17 329.17L252.22 329.9L252.27 330.63L252.31 331.36L252.36 332.09L252.41 332.82L252.45 333.55L252.5 334.29L252.55 335.02L252.6 335.75L252.64 336.48L252.69 337.21L252.74 337.94L252.79 338.67L252.83 339.4L252.88 340.13L252.93 340.87L252.98 341.6L253.03 342.33L253.07 343.06L253.12 343.79L253.17 344.52L253.22 345.25L253.27 345.98L253.32 346.71L253.36 347.44L253.41 348.17L253.46 348.91L253.51 349.64L253.56 350.37L253.61 351.1L253.66 351.83L253.71 352.56L253.76 353.29L253.81 354.02L253.86 354.75L253.91 355.48L253.96 356.21L254.01 356.94L254.06 357.67L254.11 358.4L254.17 359.13L254.22 359.86L254.27 360.59L254.32 361.32L254.37 362.05L254.43 362.78L254.48 363.51L254.53 364.24L254.59 364.97L254.64 365.7L254.7 366.43L254.75 367.16L254.8 367.89L254.86 368.62L254.92 369.35L254.97 370.08L255.03 370.81L255.08 371.54L255.14 372.27L255.2 373L255.25 373.73L255.31 374.46L255.37 375.19L255.43 375.92L255.49 376.65L255.55 377.38L255.61 378.11L255.67 378.84L255.73 379.57L255.79 380.29L255.85 381.02L255.91 381.75L255.97 382.48L256.04 383.21L256.1 383.94L256.16 384.67L256.23 385.4L256.29 386.13L256.36 386.85L256.42 387.58L256.49 388.31L256.55 389.04L256.62 389.77L256.69 390.5L256.76 391.23L256.83 391.95L256.89 392.68L256.96 393.41L257.03 394.14L257.1 394.87L257.18 395.6L257.25 396.32L257.32 397.05L257.39 397.78L257.46 398.51L257.54 399.24L257.61 399.96L257.69 400.69L257.76 401.42L257.84 402.15L257.92 402.87L257.99 403.6L258.07 404.33L258.15 405.06L258.23 405.78L258.31 406.51L258.39 407.24L258.47 407.97L258.55 408.69L258.64 409.42L258.72 410.15L258.8 410.87L258.89 411.6L258.97 412.33L259.06 413.05L259.15 413.78L259.23 414.51L259.32 415.23L259.41 415.96L259.5 416.69L259.59 417.41L259.68 418.14L259.77 418.87L259.87 419.59L259.96 420.32L260.05 421.05L260.15 421.77L260.25 422.5L260.34 423.22L260.44 423.95L260.54 424.68L260.64 425.4L260.74 426.13L260.84 426.85L260.94 427.58L261.04 428.3L261.14 429.03L261.25 429.75L261.35 430.48L261.46 431.2L261.56 431.93L261.67 432.65L261.78 433.38L261.89 434.1L262 434.83L262.11 435.55L262.22 436.28L262.33 437L262.45 437.73L262.56 438.45L262.68 439.18L262.79 439.9L262.91 440.62L263.03 441.35L263.15 442.07L263.27 442.8L263.39 443.52L263.51 444.24L263.63 444.97L263.76 445.69L263.88 446.42L264.01 447.14L264.13 447.86L264.26 448.59L264.39 449.31L264.52 450.03L264.65 450.76L264.79 451.48L264.92 452.2L265.05 452.92L265.19 453.65L265.32 454.37L265.46 455.09L265.6 455.81L265.74 456.54L265.88 457.26L266.02 457.98L266.16 458.7L266.31 459.43L266.45 460.15L266.6 460.87L266.75 461.59L266.89 462.31L267.04 463.04L267.19 463.76L267.35 464.48L267.5 465.2L267.65 465.92L267.81 466.64L267.97 467.36L268.12 468.08L268.28 468.81L268.44 469.53L268.6 470.25L268.77 470.97L268.93 471.69L269.09 472.41L269.26 473.13L269.43 473.85L269.6 474.57L269.77 475.29L269.94 476.01L270.11 476.73L270.28 477.45L270.46 478.17L270.63 478.89L270.81 479.61L270.99 480.33L271.17 481.05L271.35 481.77L271.53 482.49L271.72 483.21L271.9 483.93L272.09 484.64L272.28 485.36L272.47 486.08L272.66 486.8L272.85 487.52L273.04 488.24L273.24 488.96L273.43 489.67L273.63 490.39L273.83 491.11L274.03 491.83L274.23 492.55L274.43 493.26L274.64 493.98L274.84 494.7L275.05 495.42L275.26 496.13L275.47 496.85L275.68 497.57L275.89 498.29L276.11 499L276.32 499.72L276.54 500.44L276.76 501.15L276.98 501.87L277.2 502.59L277.42 503.3L277.65 504.02L277.88 504.73L278.1 505.45L278.33 506.16L278.56 506.88L278.8 507.59L279.03 508.31L279.27 509.02L279.5 509.74L279.74 510.45L279.98 511.16L280.23 511.88L280.47 512.59L280.72 513.3L280.96 514.01L281.21 514.72L281.46 515.43L281.72 516.14L281.97 516.85L282.23 517.56L282.49 518.26L282.75 518.97L283.01 519.67L283.27 520.38L283.54 521.08L283.81 521.78L284.08 522.49L284.35 523.19L284.62 523.89L284.9 524.59L285.17 525.28L285.45 525.98L285.74 526.68L286.02 527.37L286.3 528.06L286.59 528.76L286.88 529.45L287.17 530.14L287.47 530.82L287.76 531.51L288.06 532.2L288.36 532.88L288.67 533.56L288.97 534.25L289.28 534.93L289.59 535.6L289.9 536.28L290.21 536.96L290.53 537.63L290.85 538.3L291.17 538.97L291.49 539.64L291.82 540.31L292.15 540.98L292.48 541.64L292.81 542.3L293.14 542.96L293.48 543.62L293.82 544.28L294.16 544.93L294.51 545.59L294.86 546.24L295.21 546.89L295.56 547.53L295.91 548.18L296.27 548.82L296.63 549.46L296.99 550.1L297.36 550.74L297.73 551.37L298.1 552L298.47 552.63L298.84 553.26L299.22 553.88L299.6 554.51L299.99 555.13L300.49 555.89L301.49 557.4L302.49 558.9L303.49 560.37L304.49 561.82L305.49 563.24L306.49 564.62L307.49 565.97L308.49 567.27L309.49 568.53L310.49 569.75L311.49 570.93L312.49 572.08L313.49 573.2L314.49 574.3L315.49 575.36L316.49 576.4L317.49 577.4L318.49 578.38L319.49 579.33L320.49 580.25L321.49 581.15L322.49 582.03L323.49 582.88L324.49 583.72L325.49 584.53L326.49 585.32L327.49 586.08L328.49 586.83L329.49 587.54L330.49 588.23L331.49 588.91L332.49 589.57L333.49 590.22L334.49 590.85L335.49 591.45L336.49 592.04L337.49 592.61L338.49 593.15L339.49 593.67L340.49 594.16L341.49 594.64L342.49 595.11L343.49 595.56L344.49 595.99L345.49 596.39L346.49 596.76L347.49 597.1L348.49 597.4L349.49 597.71L350.49 598.01L351.49 598.32L352.49 598.61L353.49 598.88L354.49 599.13L355.49 599.34L356.49 599.51L357.49 599.63L358.49 599.69L359.49 599.69L360.49 599.65L361.49 599.56L362.49 599.44L363.49 599.29L364.49 599.11L365.49 598.91L366.49 598.69L367.49 598.47L368.49 598.24L369.49 598L370.49 597.74L371.49 597.42L372.49 597.06L373.49 596.66L374.49 596.25L375.49 595.83L376.49 595.41L377.49 595L378.49 594.57L379.49 594.13L380.49 593.66L381.49 593.18L382.49 592.69L383.49 592.19L384.49 591.69L385.49 591.19L386.49 590.69L387.49 590.2L388.49 589.72L389.49 589.26L390.49 588.81L391.49 588.38L392.49 587.98L393.49 587.61L394.49 587.26L395.49 586.95L396.49 586.63L397.49 586.31L398.49 585.99L399.49 585.67L400.49 585.35L401.49 585.04L402.49 584.73L403.49 584.44L404.49 584.15L405.49 583.88L406.49 583.63L407.49 583.39L408.49 583.18L409.49 582.99L410.49 582.83L411.49 582.7L412.49 582.6L413.49 582.53L414.49 582.5L415.49 582.51L416.49 582.58L417.49 582.69L418.49 582.85L419.49 583.06L420.49 583.3L421.49 583.58L422.49 583.89L423.49 584.23L424.49 584.59L425.49 584.97L426.49 585.37L427.49 585.78L428.49 586.19L429.49 586.62L430.49 587.04L431.49 587.46L432.49 587.87L433.49 588.3L434.49 588.79L435.49 589.33L436.49 589.92L437.49 590.54L438.49 591.19L439.49 591.84L440.49 592.49L441.49 593.12L442.49 593.72L443.49 594.28L444.49 594.79L445.49 595.24L446.49 595.66L447.49 596.1L448.49 596.55L449.49 596.99L450.49 597.42L451.49 597.82L452.49 598.2L453.49 598.53L454.49 598.81L455.49 599.04L456.49 599.2L457.49 599.29L458.49 599.29L459.49 599.25L460.49 599.15L461.49 599.02L462.49 598.85L463.49 598.64L464.49 598.41L465.49 598.16L466.49 597.89L467.49 597.6L468.49 597.3L469.49 597L470.49 596.7L471.49 596.4L472.49 596.1L473.49 595.82L474.49 595.56L475.49 595.32L476.49 595.09L477.49 594.85L478.49 594.59L479.49 594.33L480.49 594.05L481.49 593.77L482.49 593.49L483.49 593.22L484.49 592.96L485.49 592.71L486.49 592.49L487.49 592.28L488.49 592.11L489.49 591.97L490.49 591.87L491.49 591.81L492.49 591.8L493.49 591.83L494.49 591.89L495.49 591.98L496.49 592.09L497.49 592.23L498.49 592.39L499.49 592.57L500.49 592.76L501.49 592.97L502.49 593.18L503.49 593.4L504.49 593.63L505.49 593.86L506.49 594.08L507.49 594.3L508.49 594.52L509.49 594.76L510.49 595.04L511.49 595.35L512.49 595.7L513.49 596.06L514.49 596.44L515.49 596.84L516.49 597.23L517.49 597.62L518.49 598.01L519.49 598.38L520.49 598.72L521.49 599.04L522.49 599.32L523.49 599.57L524.49 599.76L525.49 599.9L526.49 599.98L527.49 600L528.49 599.97L529.49 599.92L530.49 599.83L531.49 599.72L532.49 599.59L533.49 599.44L534.49 599.27L535.49 599.09L536.49 598.89L537.49 598.69L538.49 598.48L539.49 598.27L540.49 598.05L541.49 597.84L542.49 597.63L543.49 597.43L544.49 597.24L545.49 597.06L546.49 596.9L547.49 596.76L548.49 596.63L549.49 596.53L550.49 596.46L551.49 596.41L552.49 596.4L553.49 596.43L554.49 596.49L555.49 596.6L556.49 596.74L557.49 596.91L558.49 597.11L559.49 597.32L560.49 597.56L561.49 597.81L562.49 598.07L563.49 598.34L564.49 598.6L565.49 598.87L566.49 599.13L567.49 599.39L568.49 599.63L569.49 599.85L570.49 600.05L571.49 600.22L572.49 600.37L573.49 600.49L574.49 600.56L575.49 600.6L576.49 600.59L577.49 600.54L578.49 600.46L579.49 600.35L580.49 600.21L581.49 600.05L582.49 599.87L583.49 599.67L584.49 599.46L585.49 599.25L586.49 599.02L587.49 598.8L588.49 598.58L589.49 598.37L590.49 598.17L591.49 597.99L592.49 597.82L593.49 597.68L594.49 597.56L595.49 597.47L596.49 597.42L597.49 597.4L598.49 597.43L599.49 597.5L600.49 597.61L601.49 597.75L602.49 597.93L603.49 598.12L604.49 598.34L605.49 598.57L606.49 598.8L607.49 599.05L608.49 599.29L609.49 599.52L610.49 599.75L611.49 599.95L612.49 600.14L613.49 600.3L614.49 600.44L615.49 600.53L616.49 600.59L617.49 600.6L618.49 600.57L619.49 600.5L620.49 600.41L621.49 600.29L622.49 600.14L623.49 599.98L624.49 599.8L625.49 599.61L626.49 599.42L627.49 599.22L628.49 599.03L629.49 598.84L630.49 598.66L631.49 598.49L632.49 598.34L633.49 598.22L634.49 598.11L635.49 598.04L636.49 598.01L637.49 598.01L638.49 598.05L639.49 598.14L640.49 598.26L641.49 598.4L642.49 598.58L643.49 598.77L644.49 598.98L645.49 599.19L646.49 599.41L647.49 599.62L648.49 599.83L649.49 600.02L650.49 600.19L651.49 600.34L652.49 600.46L653.49 600.55L654.49 600.59L655.49 600.59L656.49 600.55L657.49 600.47L658.49 600.36L659.49 600.22L660.49 600.07L661.49 599.89L662.49 599.71L663.49 599.53L664.49 599.35L665.49 599.17L666.49 599.01L667.49 598.87L668.49 598.75L669.49 598.66L670.49 598.61L671.49 598.6L672.49 598.64L673.49 598.71L674.49 598.81L675.49 598.95L676.49 599.1L677.49 599.27L678.49 599.45L679.49 599.63L680.49 599.82L681.49 600L682.49 600.16L683.49 600.31L684.49 600.43L685.49 600.52L686.49 600.58L687.49 600.6L688.49 600.57L689.49 600.51L690.49 600.42L691.49 600.29L692.49 600.15L693.49 600L694.49 599.83L695.49 599.67L696.49 599.51L697.49 599.36L698.49 599.23L699.49 599.13L700.49 599.05L701.49 599.01L702.49 599L703.49 599.04L704.49 599.12L705.49 599.22L706.49 599.34L707.49 599.49L708.49 599.64L709.49 599.8L710.49 599.96L711.49 600.11L712.49 600.25L713.49 600.38L714.49 600.48L715.49 600.55L716.49 600.59L717.49 600.6L718.49 600.56L719.49 600.49L720.49 600.4L721.49 600.28L722.49 600.16L723.49 600.02L724.49 599.88L725.49 599.75L726.49 599.62L727.49 599.5L728.49 599.41L729.49 599.34L730.49 599.31L731.49 599.3L732.49 599.34L733.49 599.41L734.49 599.5L735.49 599.62L736.49 599.74L737.49 599.88L738.49 600.02L739.49 600.15L740.49 600.28L741.49 600.4L742.49 600.49L743.49 600.56L744.49 600.59L745.49 600.6L746.49 600.56L747.49 600.49L748.49 600.4L749.49 600.3L750.49 600.18L751.49 600.05L752.49 599.93L753.49 599.81L754.49 599.7L755.49 599.61L756.49 599.54L757.49 599.5L758.49 599.5L759.49 599.54L760.49 599.61L761.49 599.7L762.49 599.8L763.49 599.92L764.49 600.05L765.49 600.17L766.49 600.29L767.49 600.4L768.49 600.49L769.49 600.56L770.49 600.6L771.49 600.6L772.49 600.56L773.49 600.5L774.49 600.42L775.49 600.32L776.49 600.21L777.49 600.1L778.49 599.99L779.49 599.89L780.49 599.8L781.49 599.74L782.49 599.7L783.49 599.7L784.49 599.73L785.49 599.79L786.49 599.86L787.49 599.95L788.49 600.05L789.49 600.15L790.49 600.25L791.49 600.33L792.49 600.41L793.49 600.47L794.49 600.5L795.49 600.5L796.49 600.5L797.49 600.5L798.49 600.5L799.49 600.5L800.49 600.5L801.49 600.5L802.49 600.5L803.49 600.5L804.49 600.5L805.49 600.5L806.49 600.5L807.49 600.5L808.49 600.5L809.49 600.5L810.49 600.5L811.49 600.5L812.49 600.5L813.49 600.5L814.49 600.5L815.49 600.5L816.49 600.5L817.49 600.5L818.49 600.5L819.49 600.5L820.49 600.5L821.49 600.5L822.49 600.5L823.49 600.5L824.49 600.5L825.49 600.5L826.49 600.5L827.49 600.5L828.49 600.5L829.49 600.5L830.49 600.5L831.49 600.5L832.49 600.5L833.49 600.5L834.49 600.5L835.49 600.5L836.49 600.5L837.49 600.5L838.49 600.5L839.49 600.5L840.49 600.5L841.49 600.5L842.49 600.5L843.49 600.5L844.49 600.5L845.49 600.5L846.49 600.5L847.49 600.5L848.49 600.5L849.49 600.5L850.49 600.5L851.49 600.5L852.49 600.5L853.49 600.5L854.49 600.5L855.49 600.5L856.49 600.5L857.49 600.5L858.49 600.5L859.49 600.5L860.49 600.5L861.49 600.5L862.49 600.5L863.49 600.5L864.49 600.5L865.49 600.5L866.49 600.5L867.49 600.5L868.49 600.5L869.49 600.5L870.49 600.5L871.49 600.5L872.49 600.5L873.49 600.5L874.49 600.5L875.49 600.5L876.49 600.5L877.49 600.5L878.49 600.5L879.49 600.5L880.49 600.5L881.49 600.5L882.49 600.5L883.49 600.5L884.49 600.5L885.49 600.5L886.49 600.5L887.49 600.5L888.49 600.5L889.49 600.5L890.49 600.5L891.49 600.5L892.49 600.5L893.49 600.5L894.49 600.5L895.49 600.5L896.49 600.5L897.49 600.5L898.49 600.5L899.49 600.5L900.49 600.5L901.49 600.5L902.49 600.5L903.49 600.5L904.49 600.5L905.49 600.5L906.49 600.5L907.49 600.5L908.49 600.5L909.49 600.5L910.49 600.5L911.49 600.5L912.49 600.5L913.49 600.5L914.49 600.5L915.49 600.5L916.49 600.5L917.49 600.5L918.49 600.5L919.49 600.5L920.49 600.5L921.49 600.5L922.49 600.5L923.49 600.5L924.49 600.5L925.49 600.5L926.49 600.5L927.49 600.5L928.49 600.5L929.49 600.5L930.49 600.5L931.49 600.5L932.49 600.5L933.49 600.5L934.49 600.5L935.49 600.5L936.49 600.5L937.49 600.5L938.49 600.5L939.49 600.5L940.49 600.5L941.49 600.5L942.49 600.5L943.49 600.5L944.49 600.5L945.49 600.5L946.49 600.5L947.49 600.5L948.49 600.5L949.49 600.5L950.49 600.5L951.49 600.5L952.49 600.5L953.49 600.5L954.49 600.5L955.49 600.5L956.49 600.5L957.49 600.5L958.49 600.5L959.49 600.5L960.49 600.5L961.49 600.5L962.49 600.5L963.49 600.5L964.49 600.5L965.49 600.5L966.49 600.5L967.49 600.5L968.49 600.5L969.49 600.5L970.49 600.5L971.49 600.5L972.49 600.5L973.49 600.5L974.4 600.5L976.6 600.5" fill="none" stroke="#E4756A" stroke-width="5.6" stroke-linejoin="round"/>
<path d="M764.1 91.8H815" stroke="#0BB0CB" stroke-width="5.9" stroke-dasharray="8.8 10.4 11.5 11.2 8.8 100"/>
<path d="M764.7 155H815.3" stroke="#EC7A76" stroke-width="6"/>
<rect x="135.8" y="732.9" width="838.9" height="547.5" fill="none" stroke="#000" stroke-width="4.4"/><path d="M135.8 1280.40H146.8M974.7 1280.40H965.2" stroke="#000" stroke-width="4.4"/><path d="M135.8 1097.90H146.8M974.7 1097.90H965.2" stroke="#000" stroke-width="4.4"/><path d="M135.8 915.40H146.8M974.7 915.40H965.2" stroke="#000" stroke-width="4.4"/><path d="M135.8 732.90H146.8M974.7 732.90H965.2" stroke="#000" stroke-width="4.4"/><path d="M275.62 732.9V742.0M275.62 1280.4V1271.4" stroke="#000" stroke-width="4.4"/><path d="M415.43 732.9V742.0M415.43 1280.4V1271.4" stroke="#000" stroke-width="4.4"/><path d="M555.25 732.9V742.0M555.25 1280.4V1271.4" stroke="#000" stroke-width="4.4"/><path d="M695.07 732.9V742.0M695.07 1280.4V1271.4" stroke="#000" stroke-width="4.4"/><path d="M834.88 732.9V742.0M834.88 1280.4V1271.4" stroke="#000" stroke-width="4.4"/>
<path d="M135.8 732.9L136.5 732.91L137.2 732.94L137.9 732.98L138.6 733.05L139.3 733.13L139.99 733.23L140.69 733.35L141.39 733.48L142.09 733.64L142.79 733.81L143.49 734L144.19 734.21L144.89 734.44L145.59 734.69L146.29 734.95L146.99 735.23L147.68 735.53L148.38 735.85L149.08 736.19L149.78 736.54L150.48 736.91L151.18 737.3L151.88 737.71L152.58 738.14L153.28 738.58L153.98 739.04L154.68 739.52L155.37 740.02L156.07 740.53L156.77 741.07L157.47 741.62L158.17 742.18L158.87 742.77L159.57 743.37L160.27 743.99L160.97 744.63L161.67 745.29L162.37 745.96L163.06 746.65L163.76 747.35L164.46 748.08L165.16 748.82L165.86 749.58L166.56 750.35L167.26 751.15L167.96 751.95L168.66 752.78L169.36 753.62L170.06 754.48L170.75 755.36L171.45 756.25L172.15 757.16L172.85 758.09L173.55 759.03L174.25 759.99L174.95 760.96L175.65 761.95L176.35 762.96L177.05 763.98L177.75 765.02L178.44 766.07L179.14 767.14L179.84 768.23L180.54 769.33L181.24 770.45L181.94 771.58L182.64 772.73L183.34 773.89L184.04 775.07L184.74 776.26L185.43 777.47L186.13 778.69L186.83 779.93L187.53 781.18L188.23 782.45L188.93 783.73L189.63 785.03L190.33 786.34L191.03 787.67L191.73 789.01L192.43 790.36L193.12 791.73L193.82 793.11L194.52 794.5L195.22 795.91L195.92 797.33L196.62 798.77L197.32 800.22L198.02 801.68L198.72 803.15L199.42 804.64L200.12 806.14L200.81 807.66L201.51 809.18L202.21 810.72L202.91 812.27L203.61 813.84L204.31 815.41L205.01 817L205.71 818.6L206.41 820.21L207.11 821.84L207.81 823.47L208.5 825.12L209.2 826.78L209.9 828.45L210.6 830.13L211.3 831.82L212 833.52L212.7 835.24L213.4 836.96L214.1 838.7L214.8 840.44L215.5 842.2L216.19 843.96L216.89 845.74L217.59 847.52L218.29 849.32L218.99 851.12L219.69 852.94L220.39 854.76L221.09 856.59L221.79 858.43L222.49 860.28L223.19 862.14L223.88 864.01L224.58 865.89L225.28 867.77L225.98 869.67L226.68 871.57L227.38 873.48L228.08 875.4L228.78 877.32L229.48 879.25L230.18 881.19L230.88 883.14L231.57 885.09L232.27 887.05L232.97 889.02L233.67 891L234.37 892.98L235.07 894.97L235.77 896.96L236.47 898.96L237.17 900.97L237.87 902.98L238.57 905L239.26 907.02L239.96 909.05L240.66 911.08L241.36 913.12L242.06 915.17L242.76 917.21L243.46 919.27L244.16 921.33L244.86 923.39L245.56 925.45L246.26 927.53L246.95 929.6L247.65 931.68L248.35 933.76L249.05 935.85L249.75 937.93L250.45 940.03L251.15 942.12L251.85 944.22L252.55 946.32L253.25 948.42L253.95 950.53L254.64 952.64L255.34 954.75L256.04 956.86L256.74 958.97L257.44 961.09L258.14 963.2L258.84 965.32L259.54 967.44L260.24 969.56L260.94 971.68L261.64 973.8L262.33 975.93L263.03 978.05L263.73 980.17L264.43 982.3L265.13 984.42L265.83 986.55L266.53 988.67L267.23 990.79L267.93 992.91L268.63 995.04L269.32 997.16L270.02 999.28L270.72 1001.4L271.42 1003.51L272.12 1005.63L272.82 1007.74L273.52 1009.85L274.22 1011.97L274.92 1014.07L275.62 1016.18L276.32 1018.28L277.01 1020.39L277.71 1022.48L278.41 1024.58L279.11 1026.67L279.81 1028.76L280.51 1030.85L281.21 1032.93L281.91 1035.01L282.61 1037.09L283.31 1039.16L284.01 1041.23L284.7 1043.29L285.4 1045.35L286.1 1047.41L286.8 1049.46L287.5 1051.51L288.2 1053.55L288.9 1055.59L289.6 1057.62L290.3 1059.64L291 1061.67L291.7 1063.68L292.39 1065.69L293.09 1067.7L293.79 1069.69L294.49 1071.69L295.19 1073.67L295.89 1075.65L296.59 1077.63L297.29 1079.6L297.99 1081.56L298.69 1083.51L299.39 1085.46L300.08 1087.4L300.78 1089.33L301.48 1091.25L302.18 1093.17L302.88 1095.08L303.58 1096.98L304.28 1098.88L304.98 1100.77L305.68 1102.64L306.38 1104.52L307.08 1106.38L307.77 1108.23L308.47 1110.08L309.17 1111.91L309.87 1113.74L310.57 1115.56L311.27 1117.37L311.97 1119.17L312.67 1120.96L313.37 1122.74L314.07 1124.52L314.77 1126.28L315.46 1128.03L316.16 1129.78L316.86 1131.51L317.56 1133.23L318.26 1134.95L318.96 1136.65L319.66 1138.34L320.36 1140.03L321.06 1141.7L321.76 1143.36L322.46 1145.01L323.15 1146.65L323.85 1148.28L324.55 1149.89L325.25 1151.5L325.95 1153.1L326.65 1154.68L327.35 1156.25L328.05 1157.81L328.75 1159.36L329.45 1160.9L330.15 1162.42L330.84 1163.94L331.54 1165.44L332.24 1166.93L332.94 1168.4L333.64 1169.87L334.34 1171.32L335.04 1172.76L335.74 1174.19L336.44 1175.61L337.14 1177.01L337.84 1178.4L338.53 1179.77L339.23 1181.14L339.93 1182.49L340.63 1183.83L341.33 1185.15L342.03 1186.46L342.73 1187.76L343.43 1189.05L344.13 1190.32L344.83 1191.57L345.53 1192.82L346.22 1194.05L346.92 1195.27L347.62 1196.47L348.32 1197.66L349.02 1198.84L349.72 1200L350.42 1201.14L351.12 1202.28L351.82 1203.4L352.52 1204.5L353.21 1205.59L353.91 1206.67L354.61 1207.73L355.31 1208.78L356.01 1209.82L356.71 1210.84L357.41 1211.84L358.11 1212.83L358.81 1213.81L359.51 1214.77L360.21 1215.72L360.9 1216.65L361.6 1217.56L362.3 1218.47L363 1219.35L363.7 1220.23L364.4 1221.08L365.1 1221.93L365.8 1222.76L366.5 1223.57L367.2 1224.37L367.9 1225.15L368.59 1225.92L369.29 1226.67L369.99 1227.41L370.69 1228.13L371.39 1228.84L372.09 1229.53L372.79 1230.21L373.49 1230.87L374.19 1231.51L374.89 1232.15L375.59 1232.76L376.28 1233.36L376.98 1233.95L377.68 1234.52L378.38 1235.07L379.08 1235.61L379.78 1236.14L380.48 1236.65L381.18 1237.14L381.88 1237.62L382.58 1238.08L383.28 1238.53L383.97 1238.96L384.67 1239.38L385.37 1239.78L386.07 1240.17L386.77 1240.54L387.47 1240.9L388.17 1241.24L388.87 1241.56L389.57 1241.87L390.27 1242.17L390.97 1242.45L391.66 1242.71L392.36 1242.96L393.06 1243.2L393.76 1243.41L394.46 1243.62L395.16 1243.81L395.86 1243.98L396.56 1244.14L397.26 1244.28L397.96 1244.41L398.66 1244.53L399.35 1244.63L400.05 1244.71L400.75 1244.78L401.45 1244.83L402.15 1244.87L402.85 1244.9L403.55 1244.91L404.25 1244.9L404.95 1244.88L405.65 1244.85L406.35 1244.8L407.04 1244.74L407.74 1244.66L408.44 1244.57L409.14 1244.46L409.84 1244.34L410.54 1244.2L411.24 1244.05L411.94 1243.89L412.64 1243.71L413.34 1243.52L414.04 1243.31L414.73 1243.09L415.43 1242.86L416.13 1242.61L416.83 1242.35L417.53 1242.07L418.23 1241.78L418.93 1241.48L419.63 1241.17L420.33 1240.84L421.03 1240.49L421.73 1240.13L422.42 1239.76L423.12 1239.38L423.82 1238.98L424.52 1238.57L425.22 1238.15L425.92 1237.72L426.62 1237.27L427.32 1236.8L428.02 1236.33L428.72 1235.84L429.42 1235.34L430.11 1234.83L430.81 1234.31L431.51 1233.77L432.21 1233.22L432.91 1232.66L433.61 1232.08L434.31 1231.5L435.01 1230.9L435.71 1230.29L436.41 1229.67L437.1 1229.04L437.8 1228.39L438.5 1227.73L439.2 1227.07L439.9 1226.39L440.6 1225.7L441.3 1225L442 1224.28L442.7 1223.56L443.4 1222.82L444.1 1222.08L444.79 1221.32L445.49 1220.56L446.19 1219.78L446.89 1218.99L447.59 1218.19L448.29 1217.38L448.99 1216.56L449.69 1215.74L450.39 1214.9L451.09 1214.05L451.79 1213.19L452.48 1212.32L453.18 1211.45L453.88 1210.56L454.58 1209.66L455.28 1208.76L455.98 1207.85L456.68 1206.92L457.38 1205.99L458.08 1205.05L458.78 1204.1L459.48 1203.14L460.17 1202.18L460.87 1201.2L461.57 1200.22L462.27 1199.23L462.97 1198.23L463.67 1197.22L464.37 1196.21L465.07 1195.18L465.77 1194.15L466.47 1193.12L467.17 1192.07L467.86 1191.02L468.56 1189.96L469.26 1188.89L469.96 1187.82L470.66 1186.74L471.36 1185.66L472.06 1184.56L472.76 1183.46L473.46 1182.36L474.16 1181.25L474.86 1180.13L475.55 1179.01L476.25 1177.88L476.95 1176.74L477.65 1175.6L478.35 1174.45L479.05 1173.3L479.75 1172.15L480.45 1170.99L481.15 1169.82L481.85 1168.65L482.55 1167.47L483.24 1166.29L483.94 1165.11L484.64 1163.92L485.34 1162.72L486.04 1161.53L486.74 1160.32L487.44 1159.12L488.14 1157.91L488.84 1156.7L489.54 1155.48L490.24 1154.26L490.93 1153.04L491.63 1151.81L492.33 1150.58L493.03 1149.35L493.73 1148.12L494.43 1146.88L495.13 1145.64L495.83 1144.4L496.53 1143.15L497.23 1141.91L497.93 1140.66L498.62 1139.41L499.32 1138.16L500.02 1136.9L500.72 1135.65L501.42 1134.39L502.12 1133.13L502.82 1131.87L503.52 1130.61L504.22 1129.35L504.92 1128.09L505.62 1126.83L506.31 1125.57L507.01 1124.31L507.71 1123.04L508.41 1121.78L509.11 1120.52L509.81 1119.25L510.51 1117.99L511.21 1116.73L511.91 1115.46L512.61 1114.2L513.31 1112.94L514 1111.68L514.7 1110.42L515.4 1109.16L516.1 1107.91L516.8 1106.65L517.5 1105.4L518.2 1104.15L518.9 1102.89L519.6 1101.65L520.3 1100.4L520.99 1099.15L521.69 1097.91L522.39 1096.67L523.09 1095.43L523.79 1094.19L524.49 1092.96L525.19 1091.73L525.89 1090.5L526.59 1089.28L527.29 1088.06L527.99 1086.84L528.68 1085.62L529.38 1084.41L530.08 1083.2L530.78 1082L531.48 1080.79L532.18 1079.6L532.88 1078.4L533.58 1077.21L534.28 1076.03L534.98 1074.85L535.68 1073.67L536.37 1072.5L537.07 1071.33L537.77 1070.17L538.47 1069.01L539.17 1067.86L539.87 1066.71L540.57 1065.57L541.27 1064.43L541.97 1063.3L542.67 1062.17L543.37 1061.05L544.06 1059.93L544.76 1058.82L545.46 1057.72L546.16 1056.62L546.86 1055.52L547.56 1054.44L548.26 1053.36L548.96 1052.28L549.66 1051.22L550.36 1050.15L551.06 1049.1L551.75 1048.05L552.45 1047.01L553.15 1045.98L553.85 1044.95L554.55 1043.93L555.25 1042.91L555.95 1041.91L556.65 1040.91L557.35 1039.92L558.05 1038.93L558.75 1037.96L559.44 1036.99L560.14 1036.03L560.84 1035.07L561.54 1034.13L562.24 1033.19L562.94 1032.26L563.64 1031.34L564.34 1030.42L565.04 1029.52L565.74 1028.62L566.44 1027.73L567.13 1026.85L567.83 1025.98L568.53 1025.12L569.23 1024.26L569.93 1023.42L570.63 1022.58L571.33 1021.75L572.03 1020.93L572.73 1020.12L573.43 1019.32L574.13 1018.53L574.82 1017.75L575.52 1016.97L576.22 1016.21L576.92 1015.45L577.62 1014.71L578.32 1013.97L579.02 1013.25L579.72 1012.53L580.42 1011.82L581.12 1011.12L581.82 1010.44L582.51 1009.76L583.21 1009.09L583.91 1008.43L584.61 1007.79L585.31 1007.15L586.01 1006.52L586.71 1005.9L587.41 1005.29L588.11 1004.7L588.81 1004.11L589.51 1003.53L590.2 1002.97L590.9 1002.41L591.6 1001.86L592.3 1001.33L593 1000.8L593.7 1000.29L594.4 999.78L595.1 999.29L595.8 998.81L596.5 998.34L597.2 997.87L597.89 997.42L598.59 996.98L599.29 996.55L599.99 996.14L600.69 995.73L601.39 995.33L602.09 994.94L602.79 994.57L603.49 994.2L604.19 993.85L604.88 993.51L605.58 993.18L606.28 992.86L606.98 992.55L607.68 992.25L608.38 991.96L609.08 991.68L609.78 991.42L610.48 991.16L611.18 990.92L611.88 990.69L612.57 990.47L613.27 990.26L613.97 990.06L614.67 989.87L615.37 989.69L616.07 989.52L616.77 989.37L617.47 989.23L618.17 989.09L618.87 988.97L619.57 988.86L620.26 988.76L620.96 988.67L621.66 988.59L622.36 988.53L623.06 988.47L623.76 988.43L624.46 988.39L625.16 988.37L625.86 988.36L626.56 988.36L627.26 988.37L627.95 988.39L628.65 988.42L629.35 988.47L630.05 988.52L630.75 988.58L631.45 988.66L632.15 988.75L632.85 988.84L633.55 988.95L634.25 989.07L634.95 989.2L635.64 989.34L636.34 989.49L637.04 989.65L637.74 989.82L638.44 990.01L639.14 990.2L639.84 990.4L640.54 990.62L641.24 990.84L641.94 991.08L642.64 991.32L643.33 991.58L644.03 991.84L644.73 992.12L645.43 992.4L646.13 992.7L646.83 993.01L647.53 993.32L648.23 993.65L648.93 993.99L649.63 994.33L650.33 994.69L651.02 995.06L651.72 995.43L652.42 995.82L653.12 996.21L653.82 996.62L654.52 997.03L655.22 997.46L655.92 997.89L656.62 998.33L657.32 998.78L658.02 999.25L658.71 999.72L659.41 1000.2L660.11 1000.69L660.81 1001.18L661.51 1001.69L662.21 1002.21L662.91 1002.73L663.61 1003.27L664.31 1003.81L665.01 1004.36L665.71 1004.92L666.4 1005.49L667.1 1006.07L667.8 1006.65L668.5 1007.24L669.2 1007.85L669.9 1008.46L670.6 1009.07L671.3 1009.7L672 1010.34L672.7 1010.98L673.4 1011.63L674.09 1012.29L674.79 1012.95L675.49 1013.62L676.19 1014.31L676.89 1014.99L677.59 1015.69L678.29 1016.39L678.99 1017.1L679.69 1017.82L680.39 1018.54L681.09 1019.28L681.78 1020.01L682.48 1020.76L683.18 1021.51L683.88 1022.27L684.58 1023.04L685.28 1023.81L685.98 1024.59L686.68 1025.37L687.38 1026.16L688.08 1026.96L688.77 1027.76L689.47 1028.57L690.17 1029.38L690.87 1030.21L691.57 1031.03L692.27 1031.86L692.97 1032.7L693.67 1033.55L694.37 1034.39L695.07 1035.25L695.77 1036.11L696.46 1036.97L697.16 1037.84L697.86 1038.71L698.56 1039.59L699.26 1040.48L699.96 1041.36L700.66 1042.26L701.36 1043.15L702.06 1044.06L702.76 1044.96L703.46 1045.87L704.15 1046.79L704.85 1047.7L705.55 1048.63L706.25 1049.55L706.95 1050.48L707.65 1051.41L708.35 1052.35L709.05 1053.29L709.75 1054.23L710.45 1055.18L711.15 1056.13L711.84 1057.08L712.54 1058.04L713.24 1059L713.94 1059.96L714.64 1060.92L715.34 1061.89L716.04 1062.86L716.74 1063.83L717.44 1064.8L718.14 1065.78L718.84 1066.76L719.53 1067.73L720.23 1068.72L720.93 1069.7L721.63 1070.68L722.33 1071.67L723.03 1072.66L723.73 1073.65L724.43 1074.64L725.13 1075.63L725.83 1076.62L726.53 1077.61L727.22 1078.61L727.92 1079.6L728.62 1080.6L729.32 1081.6L730.02 1082.59L730.72 1083.59L731.42 1084.59L732.12 1085.58L732.82 1086.58L733.52 1087.58L734.22 1088.58L734.91 1089.57L735.61 1090.57L736.31 1091.57L737.01 1092.56L737.71 1093.56L738.41 1094.55L739.11 1095.55L739.81 1096.54L740.51 1097.53L741.21 1098.52L741.91 1099.51L742.6 1100.5L743.3 1101.49L744 1102.47L744.7 1103.45L745.4 1104.44L746.1 1105.42L746.8 1106.39L747.5 1107.37L748.2 1108.35L748.9 1109.32L749.6 1110.29L750.29 1111.26L750.99 1112.22L751.69 1113.18L752.39 1114.14L753.09 1115.1L753.79 1116.05L754.49 1117.01L755.19 1117.95L755.89 1118.9L756.59 1119.84L757.29 1120.78L757.98 1121.72L758.68 1122.65L759.38 1123.58L760.08 1124.5L760.78 1125.43L761.48 1126.34L762.18 1127.26L762.88 1128.17L763.58 1129.07L764.28 1129.97L764.98 1130.87L765.67 1131.76L766.37 1132.65L767.07 1133.54L767.77 1134.42L768.47 1135.29L769.17 1136.16L769.87 1137.03L770.57 1137.89L771.27 1138.75L771.97 1139.6L772.66 1140.44L773.36 1141.28L774.06 1142.12L774.76 1142.95L775.46 1143.77L776.16 1144.59L776.86 1145.41L777.56 1146.21L778.26 1147.02L778.96 1147.81L779.66 1148.6L780.35 1149.39L781.05 1150.17L781.75 1150.94L782.45 1151.71L783.15 1152.47L783.85 1153.22L784.55 1153.97L785.25 1154.71L785.95 1155.44L786.65 1156.17L787.35 1156.89L788.04 1157.61L788.74 1158.32L789.44 1159.02L790.14 1159.71L790.84 1160.4L791.54 1161.08L792.24 1161.76L792.94 1162.42L793.64 1163.08L794.34 1163.73L795.04 1164.38L795.73 1165.02L796.43 1165.65L797.13 1166.27L797.83 1166.88L798.53 1167.49L799.23 1168.09L799.93 1168.68L800.63 1169.27L801.33 1169.85L802.03 1170.41L802.73 1170.98L803.42 1171.53L804.12 1172.08L804.82 1172.61L805.52 1173.14L806.22 1173.66L806.92 1174.18L807.62 1174.68L808.32 1175.18L809.02 1175.67L809.72 1176.15L810.42 1176.62L811.11 1177.08L811.81 1177.54L812.51 1177.99L813.21 1178.43L813.91 1178.86L814.61 1179.28L815.31 1179.69L816.01 1180.09L816.71 1180.49L817.41 1180.88L818.11 1181.25L818.8 1181.62L819.5 1181.99L820.2 1182.34L820.9 1182.68L821.6 1183.02L822.3 1183.34L823 1183.66L823.7 1183.97L824.4 1184.26L825.1 1184.55L825.8 1184.84L826.49 1185.11L827.19 1185.37L827.89 1185.62L828.59 1185.87L829.29 1186.11L829.99 1186.33L830.69 1186.55L831.39 1186.76L832.09 1186.96L832.79 1187.15L833.49 1187.33L834.18 1187.5L834.88 1187.67L835.58 1187.82L836.28 1187.97L836.98 1188.1L837.68 1188.23L838.38 1188.35L839.08 1188.45L839.78 1188.55L840.48 1188.64L841.18 1188.72L841.87 1188.8L842.57 1188.86L843.27 1188.91L843.97 1188.96L844.67 1188.99L845.37 1189.02L846.07 1189.03L846.77 1189.04L847.47 1189.04L848.17 1189.03L848.87 1189.01L849.56 1188.98L850.26 1188.94L850.96 1188.9L851.66 1188.84L852.36 1188.78L853.06 1188.7L853.76 1188.62L854.46 1188.53L855.16 1188.43L855.86 1188.32L856.55 1188.2L857.25 1188.07L857.95 1187.93L858.65 1187.79L859.35 1187.63L860.05 1187.47L860.75 1187.3L861.45 1187.12L862.15 1186.93L862.85 1186.73L863.55 1186.52L864.24 1186.31L864.94 1186.08L865.64 1185.85L866.34 1185.61L867.04 1185.36L867.74 1185.1L868.44 1184.84L869.14 1184.56L869.84 1184.28L870.54 1183.98L871.24 1183.68L871.93 1183.38L872.63 1183.06L873.33 1182.73L874.03 1182.4L874.73 1182.06L875.43 1181.71L876.13 1181.35L876.83 1180.99L877.53 1180.61L878.23 1180.23L878.93 1179.84L879.62 1179.45L880.32 1179.04L881.02 1178.63L881.72 1178.21L882.42 1177.78L883.12 1177.34L883.82 1176.9L884.52 1176.45L885.22 1175.99L885.92 1175.53L886.62 1175.06L887.31 1174.58L888.01 1174.09L888.71 1173.59L889.41 1173.09L890.11 1172.58L890.81 1172.07L891.51 1171.55L892.21 1171.02L892.91 1170.48L893.61 1169.94L894.31 1169.39L895 1168.83L895.7 1168.27L896.4 1167.7L897.1 1167.12L897.8 1166.54L898.5 1165.95L899.2 1165.36L899.9 1164.76L900.6 1164.15L901.3 1163.54L902 1162.92L902.69 1162.29L903.39 1161.66L904.09 1161.03L904.79 1160.38L905.49 1159.74L906.19 1159.08L906.89 1158.42L907.59 1157.76L908.29 1157.09L908.99 1156.41L909.69 1155.73L910.38 1155.05L911.08 1154.36L911.78 1153.66L912.48 1152.96L913.18 1152.25L913.88 1151.54L914.58 1150.83L915.28 1150.11L915.98 1149.38L916.68 1148.66L917.38 1147.92L918.07 1147.18L918.77 1146.44L919.47 1145.7L920.17 1144.95L920.87 1144.19L921.57 1143.43L922.27 1142.67L922.97 1141.91L923.67 1141.14L924.37 1140.36L925.07 1139.59L925.76 1138.8L926.46 1138.02L927.16 1137.23L927.86 1136.44L928.56 1135.65L929.26 1134.85L929.96 1134.05L930.66 1133.25L931.36 1132.45L932.06 1131.64L932.76 1130.83L933.45 1130.02L934.15 1129.2L934.85 1128.38L935.55 1127.56L936.25 1126.74L936.95 1125.91L937.65 1125.09L938.35 1124.26L939.05 1123.43L939.75 1122.59L940.44 1121.76L941.14 1120.92L941.84 1120.09L942.54 1119.25L943.24 1118.41L943.94 1117.56L944.64 1116.72L945.34 1115.88L946.04 1115.03L946.74 1114.18L947.44 1113.34L948.13 1112.49L948.83 1111.64L949.53 1110.79L950.23 1109.94L950.93 1109.09L951.63 1108.24L952.33 1107.39L953.03 1106.54L953.73 1105.69L954.43 1104.83L955.13 1103.98L955.82 1103.13L956.52 1102.28L957.22 1101.43L957.92 1100.58L958.62 1099.73L959.32 1098.88L960.02 1098.03L960.72 1097.18L961.42 1096.33L962.12 1095.49L962.82 1094.64L963.51 1093.8L964.21 1092.95L964.91 1092.11L965.61 1091.27L966.31 1090.43L967.01 1089.59L967.71 1088.76L968.41 1087.92L969.11 1087.09L969.81 1086.26L970.51 1085.43L971.2 1084.6L971.9 1083.77L972.6 1082.95L973.3 1082.13L974 1081.31L974.7 1080.49" fill="none" stroke="#248B48" stroke-width="5.6" stroke-linejoin="round"/>
<path d="M135.8 1097.9L136.5 1096.08L137.2 1094.25L137.9 1092.43L138.6 1090.6L139.3 1088.78L139.99 1086.95L140.69 1085.13L141.39 1083.31L142.09 1081.49L142.79 1079.67L143.49 1077.86L144.19 1076.04L144.89 1074.23L145.59 1072.41L146.29 1070.6L146.99 1068.79L147.68 1066.99L148.38 1065.18L149.08 1063.38L149.78 1061.58L150.48 1059.79L151.18 1057.99L151.88 1056.2L152.58 1054.41L153.28 1052.63L153.98 1050.85L154.68 1049.07L155.37 1047.3L156.07 1045.53L156.77 1043.76L157.47 1042L158.17 1040.24L158.87 1038.49L159.57 1036.74L160.27 1035L160.97 1033.26L161.67 1031.52L162.37 1029.79L163.06 1028.07L163.76 1026.35L164.46 1024.64L165.16 1022.93L165.86 1021.22L166.56 1019.53L167.26 1017.84L167.96 1016.15L168.66 1014.47L169.36 1012.8L170.06 1011.13L170.75 1009.47L171.45 1007.82L172.15 1006.17L172.85 1004.53L173.55 1002.9L174.25 1001.27L174.95 999.65L175.65 998.04L176.35 996.44L177.05 994.84L177.75 993.25L178.44 991.67L179.14 990.1L179.84 988.54L180.54 986.98L181.24 985.43L181.94 983.89L182.64 982.36L183.34 980.84L184.04 979.32L184.74 977.82L185.43 976.32L186.13 974.83L186.83 973.35L187.53 971.89L188.23 970.43L188.93 968.98L189.63 967.54L190.33 966.1L191.03 964.68L191.73 963.27L192.43 961.87L193.12 960.48L193.82 959.1L194.52 957.73L195.22 956.37L195.92 955.02L196.62 953.68L197.32 952.35L198.02 951.04L198.72 949.73L199.42 948.43L200.12 947.15L200.81 945.87L201.51 944.61L202.21 943.36L202.91 942.12L203.61 940.89L204.31 939.68L205.01 938.47L205.71 937.28L206.41 936.1L207.11 934.93L207.81 933.77L208.5 932.63L209.2 931.5L209.9 930.38L210.6 929.27L211.3 928.17L212 927.09L212.7 926.02L213.4 924.96L214.1 923.92L214.8 922.89L215.5 921.87L216.19 920.86L216.89 919.87L217.59 918.89L218.29 917.92L218.99 916.97L219.69 916.02L220.39 915.1L221.09 914.18L221.79 913.28L222.49 912.4L223.19 911.52L223.88 910.66L224.58 909.82L225.28 908.98L225.98 908.17L226.68 907.36L227.38 906.57L228.08 905.79L228.78 905.03L229.48 904.28L230.18 903.55L230.88 902.83L231.57 902.12L232.27 901.43L232.97 900.75L233.67 900.09L234.37 899.44L235.07 898.81L235.77 898.19L236.47 897.58L237.17 896.99L237.87 896.41L238.57 895.85L239.26 895.3L239.96 894.77L240.66 894.25L241.36 893.75L242.06 893.26L242.76 892.79L243.46 892.33L244.16 891.89L244.86 891.46L245.56 891.04L246.26 890.64L246.95 890.26L247.65 889.89L248.35 889.53L249.05 889.19L249.75 888.87L250.45 888.56L251.15 888.26L251.85 887.98L252.55 887.72L253.25 887.47L253.95 887.24L254.64 887.02L255.34 886.81L256.04 886.62L256.74 886.45L257.44 886.29L258.14 886.14L258.84 886.01L259.54 885.9L260.24 885.8L260.94 885.72L261.64 885.65L262.33 885.59L263.03 885.55L263.73 885.53L264.43 885.52L265.13 885.53L265.83 885.55L266.53 885.58L267.23 885.63L267.93 885.7L268.63 885.78L269.32 885.87L270.02 885.98L270.72 886.11L271.42 886.25L272.12 886.4L272.82 886.57L273.52 886.76L274.22 886.95L274.92 887.17L275.62 887.4L276.32 887.64L277.01 887.9L277.71 888.17L278.41 888.45L279.11 888.75L279.81 889.07L280.51 889.4L281.21 889.74L281.91 890.1L282.61 890.47L283.31 890.86L284.01 891.26L284.7 891.68L285.4 892.11L286.1 892.55L286.8 893.01L287.5 893.48L288.2 893.96L288.9 894.46L289.6 894.97L290.3 895.5L291 896.04L291.7 896.59L292.39 897.16L293.09 897.74L293.79 898.34L294.49 898.94L295.19 899.56L295.89 900.2L296.59 900.85L297.29 901.51L297.99 902.18L298.69 902.87L299.39 903.57L300.08 904.28L300.78 905L301.48 905.74L302.18 906.49L302.88 907.26L303.58 908.03L304.28 908.82L304.98 909.62L305.68 910.43L306.38 911.26L307.08 912.1L307.77 912.95L308.47 913.81L309.17 914.68L309.87 915.56L310.57 916.46L311.27 917.37L311.97 918.29L312.67 919.22L313.37 920.16L314.07 921.12L314.77 922.08L315.46 923.06L316.16 924.04L316.86 925.04L317.56 926.05L318.26 927.07L318.96 928.1L319.66 929.14L320.36 930.19L321.06 931.26L321.76 932.33L322.46 933.41L323.15 934.5L323.85 935.6L324.55 936.72L325.25 937.84L325.95 938.97L326.65 940.11L327.35 941.26L328.05 942.42L328.75 943.59L329.45 944.77L330.15 945.95L330.84 947.15L331.54 948.36L332.24 949.57L332.94 950.79L333.64 952.02L334.34 953.26L335.04 954.51L335.74 955.77L336.44 957.03L337.14 958.3L337.84 959.58L338.53 960.87L339.23 962.16L339.93 963.47L340.63 964.78L341.33 966.09L342.03 967.42L342.73 968.75L343.43 970.09L344.13 971.43L344.83 972.79L345.53 974.14L346.22 975.51L346.92 976.88L347.62 978.26L348.32 979.64L349.02 981.03L349.72 982.43L350.42 983.83L351.12 985.23L351.82 986.65L352.52 988.06L353.21 989.49L353.91 990.91L354.61 992.35L355.31 993.79L356.01 995.23L356.71 996.68L357.41 998.13L358.11 999.58L358.81 1001.04L359.51 1002.51L360.21 1003.98L360.9 1005.45L361.6 1006.93L362.3 1008.41L363 1009.89L363.7 1011.38L364.4 1012.87L365.1 1014.36L365.8 1015.86L366.5 1017.36L367.2 1018.86L367.9 1020.36L368.59 1021.87L369.29 1023.38L369.99 1024.89L370.69 1026.41L371.39 1027.92L372.09 1029.44L372.79 1030.96L373.49 1032.48L374.19 1034.01L374.89 1035.53L375.59 1037.05L376.28 1038.58L376.98 1040.11L377.68 1041.64L378.38 1043.17L379.08 1044.7L379.78 1046.23L380.48 1047.76L381.18 1049.29L381.88 1050.82L382.58 1052.35L383.28 1053.88L383.97 1055.41L384.67 1056.94L385.37 1058.47L386.07 1060L386.77 1061.53L387.47 1063.06L388.17 1064.58L388.87 1066.11L389.57 1067.63L390.27 1069.15L390.97 1070.67L391.66 1072.19L392.36 1073.71L393.06 1075.23L393.76 1076.74L394.46 1078.25L395.16 1079.76L395.86 1081.27L396.56 1082.77L397.26 1084.27L397.96 1085.77L398.66 1087.27L399.35 1088.76L400.05 1090.25L400.75 1091.74L401.45 1093.22L402.15 1094.7L402.85 1096.18L403.55 1097.65L404.25 1099.12L404.95 1100.58L405.65 1102.04L406.35 1103.5L407.04 1104.95L407.74 1106.4L408.44 1107.84L409.14 1109.28L409.84 1110.72L410.54 1112.15L411.24 1113.57L411.94 1114.99L412.64 1116.4L413.34 1117.81L414.04 1119.22L414.73 1120.61L415.43 1122.01L416.13 1123.39L416.83 1124.77L417.53 1126.15L418.23 1127.52L418.93 1128.88L419.63 1130.23L420.33 1131.58L421.03 1132.93L421.73 1134.26L422.42 1135.59L423.12 1136.92L423.82 1138.23L424.52 1139.54L425.22 1140.85L425.92 1142.14L426.62 1143.43L427.32 1144.71L428.02 1145.98L428.72 1147.25L429.42 1148.51L430.11 1149.76L430.81 1151L431.51 1152.23L432.21 1153.46L432.91 1154.68L433.61 1155.89L434.31 1157.09L435.01 1158.28L435.71 1159.47L436.41 1160.64L437.1 1161.81L437.8 1162.97L438.5 1164.12L439.2 1165.26L439.9 1166.39L440.6 1167.51L441.3 1168.63L442 1169.73L442.7 1170.83L443.4 1171.91L444.1 1172.99L444.79 1174.06L445.49 1175.11L446.19 1176.16L446.89 1177.2L447.59 1178.23L448.29 1179.24L448.99 1180.25L449.69 1181.25L450.39 1182.24L451.09 1183.21L451.79 1184.18L452.48 1185.14L453.18 1186.08L453.88 1187.02L454.58 1187.95L455.28 1188.86L455.98 1189.77L456.68 1190.66L457.38 1191.54L458.08 1192.41L458.78 1193.27L459.48 1194.12L460.17 1194.96L460.87 1195.79L461.57 1196.61L462.27 1197.41L462.97 1198.21L463.67 1198.99L464.37 1199.76L465.07 1200.53L465.77 1201.27L466.47 1202.01L467.17 1202.74L467.86 1203.45L468.56 1204.16L469.26 1204.85L469.96 1205.53L470.66 1206.2L471.36 1206.85L472.06 1207.5L472.76 1208.13L473.46 1208.75L474.16 1209.36L474.86 1209.96L475.55 1210.54L476.25 1211.12L476.95 1211.68L477.65 1212.23L478.35 1212.76L479.05 1213.29L479.75 1213.8L480.45 1214.3L481.15 1214.79L481.85 1215.27L482.55 1215.73L483.24 1216.18L483.94 1216.62L484.64 1217.05L485.34 1217.47L486.04 1217.87L486.74 1218.26L487.44 1218.64L488.14 1219L488.84 1219.36L489.54 1219.7L490.24 1220.03L490.93 1220.34L491.63 1220.65L492.33 1220.94L493.03 1221.22L493.73 1221.49L494.43 1221.74L495.13 1221.98L495.83 1222.21L496.53 1222.43L497.23 1222.64L497.93 1222.83L498.62 1223.01L499.32 1223.18L500.02 1223.33L500.72 1223.47L501.42 1223.61L502.12 1223.72L502.82 1223.83L503.52 1223.92L504.22 1224.01L504.92 1224.07L505.62 1224.13L506.31 1224.18L507.01 1224.21L507.71 1224.23L508.41 1224.24L509.11 1224.23L509.81 1224.22L510.51 1224.19L511.21 1224.15L511.91 1224.09L512.61 1224.03L513.31 1223.95L514 1223.86L514.7 1223.76L515.4 1223.65L516.1 1223.52L516.8 1223.39L517.5 1223.24L518.2 1223.08L518.9 1222.9L519.6 1222.72L520.3 1222.52L520.99 1222.32L521.69 1222.1L522.39 1221.87L523.09 1221.63L523.79 1221.37L524.49 1221.11L525.19 1220.83L525.89 1220.54L526.59 1220.24L527.29 1219.93L527.99 1219.61L528.68 1219.28L529.38 1218.93L530.08 1218.58L530.78 1218.21L531.48 1217.83L532.18 1217.44L532.88 1217.04L533.58 1216.63L534.28 1216.21L534.98 1215.78L535.68 1215.34L536.37 1214.89L537.07 1214.42L537.77 1213.95L538.47 1213.47L539.17 1212.97L539.87 1212.47L540.57 1211.95L541.27 1211.43L541.97 1210.89L542.67 1210.34L543.37 1209.79L544.06 1209.22L544.76 1208.65L545.46 1208.06L546.16 1207.47L546.86 1206.86L547.56 1206.25L548.26 1205.63L548.96 1204.99L549.66 1204.35L550.36 1203.7L551.06 1203.04L551.75 1202.37L552.45 1201.69L553.15 1201L553.85 1200.31L554.55 1199.6L555.25 1198.89L555.95 1198.17L556.65 1197.44L557.35 1196.7L558.05 1195.95L558.75 1195.19L559.44 1194.43L560.14 1193.66L560.84 1192.88L561.54 1192.09L562.24 1191.29L562.94 1190.49L563.64 1189.67L564.34 1188.86L565.04 1188.03L565.74 1187.19L566.44 1186.35L567.13 1185.5L567.83 1184.65L568.53 1183.78L569.23 1182.91L569.93 1182.04L570.63 1181.15L571.33 1180.26L572.03 1179.37L572.73 1178.46L573.43 1177.55L574.13 1176.64L574.82 1175.71L575.52 1174.79L576.22 1173.85L576.92 1172.91L577.62 1171.97L578.32 1171.01L579.02 1170.06L579.72 1169.09L580.42 1168.12L581.12 1167.15L581.82 1166.17L582.51 1165.19L583.21 1164.2L583.91 1163.2L584.61 1162.2L585.31 1161.2L586.01 1160.19L586.71 1159.18L587.41 1158.16L588.11 1157.14L588.81 1156.12L589.51 1155.09L590.2 1154.05L590.9 1153.01L591.6 1151.97L592.3 1150.93L593 1149.88L593.7 1148.83L594.4 1147.77L595.1 1146.71L595.8 1145.65L596.5 1144.59L597.2 1143.52L597.89 1142.45L598.59 1141.37L599.29 1140.3L599.99 1139.22L600.69 1138.14L601.39 1137.05L602.09 1135.97L602.79 1134.88L603.49 1133.79L604.19 1132.7L604.88 1131.61L605.58 1130.51L606.28 1129.42L606.98 1128.32L607.68 1127.22L608.38 1126.12L609.08 1125.02L609.78 1123.91L610.48 1122.81L611.18 1121.7L611.88 1120.6L612.57 1119.49L613.27 1118.39L613.97 1117.28L614.67 1116.17L615.37 1115.07L616.07 1113.96L616.77 1112.85L617.47 1111.75L618.17 1110.64L618.87 1109.53L619.57 1108.43L620.26 1107.32L620.96 1106.22L621.66 1105.11L622.36 1104.01L623.06 1102.91L623.76 1101.81L624.46 1100.71L625.16 1099.61L625.86 1098.51L626.56 1097.42L627.26 1096.32L627.95 1095.23L628.65 1094.14L629.35 1093.05L630.05 1091.97L630.75 1090.88L631.45 1089.8L632.15 1088.72L632.85 1087.64L633.55 1086.57L634.25 1085.49L634.95 1084.43L635.64 1083.36L636.34 1082.29L637.04 1081.23L637.74 1080.18L638.44 1079.12L639.14 1078.07L639.84 1077.02L640.54 1075.98L641.24 1074.94L641.94 1073.9L642.64 1072.87L643.33 1071.84L644.03 1070.81L644.73 1069.79L645.43 1068.77L646.13 1067.76L646.83 1066.75L647.53 1065.75L648.23 1064.75L648.93 1063.75L649.63 1062.76L650.33 1061.78L651.02 1060.8L651.72 1059.82L652.42 1058.85L653.12 1057.89L653.82 1056.93L654.52 1055.97L655.22 1055.02L655.92 1054.08L656.62 1053.14L657.32 1052.21L658.02 1051.28L658.71 1050.36L659.41 1049.44L660.11 1048.53L660.81 1047.63L661.51 1046.73L662.21 1045.84L662.91 1044.96L663.61 1044.08L664.31 1043.21L665.01 1042.34L665.71 1041.48L666.4 1040.63L667.1 1039.79L667.8 1038.95L668.5 1038.12L669.2 1037.29L669.9 1036.47L670.6 1035.66L671.3 1034.86L672 1034.06L672.7 1033.28L673.4 1032.49L674.09 1031.72L674.79 1030.95L675.49 1030.2L676.19 1029.44L676.89 1028.7L677.59 1027.97L678.29 1027.24L678.99 1026.52L679.69 1025.8L680.39 1025.1L681.09 1024.4L681.78 1023.72L682.48 1023.04L683.18 1022.37L683.88 1021.7L684.58 1021.05L685.28 1020.4L685.98 1019.76L686.68 1019.13L687.38 1018.51L688.08 1017.9L688.77 1017.3L689.47 1016.7L690.17 1016.11L690.87 1015.54L691.57 1014.97L692.27 1014.41L692.97 1013.86L693.67 1013.31L694.37 1012.78L695.07 1012.26L695.77 1011.74L696.46 1011.24L697.16 1010.74L697.86 1010.25L698.56 1009.77L699.26 1009.31L699.96 1008.85L700.66 1008.4L701.36 1007.95L702.06 1007.52L702.76 1007.1L703.46 1006.69L704.15 1006.29L704.85 1005.89L705.55 1005.51L706.25 1005.13L706.95 1004.77L707.65 1004.41L708.35 1004.07L709.05 1003.73L709.75 1003.4L710.45 1003.09L711.15 1002.78L711.84 1002.48L712.54 1002.2L713.24 1001.92L713.94 1001.65L714.64 1001.39L715.34 1001.14L716.04 1000.91L716.74 1000.68L717.44 1000.46L718.14 1000.25L718.84 1000.05L719.53 999.86L720.23 999.68L720.93 999.51L721.63 999.35L722.33 999.2L723.03 999.06L723.73 998.93L724.43 998.81L725.13 998.7L725.83 998.6L726.53 998.51L727.22 998.43L727.92 998.36L728.62 998.3L729.32 998.25L730.02 998.21L730.72 998.18L731.42 998.16L732.12 998.15L732.82 998.15L733.52 998.15L734.22 998.17L734.91 998.2L735.61 998.24L736.31 998.29L737.01 998.34L737.71 998.41L738.41 998.49L739.11 998.58L739.81 998.67L740.51 998.78L741.21 998.89L741.91 999.02L742.6 999.15L743.3 999.3L744 999.45L744.7 999.62L745.4 999.79L746.1 999.97L746.8 1000.16L747.5 1000.37L748.2 1000.58L748.9 1000.8L749.6 1001.03L750.29 1001.26L750.99 1001.51L751.69 1001.77L752.39 1002.04L753.09 1002.31L753.79 1002.6L754.49 1002.89L755.19 1003.19L755.89 1003.51L756.59 1003.83L757.29 1004.16L757.98 1004.5L758.68 1004.84L759.38 1005.2L760.08 1005.56L760.78 1005.94L761.48 1006.32L762.18 1006.71L762.88 1007.11L763.58 1007.52L764.28 1007.94L764.98 1008.36L765.67 1008.79L766.37 1009.24L767.07 1009.69L767.77 1010.14L768.47 1010.61L769.17 1011.09L769.87 1011.57L770.57 1012.06L771.27 1012.56L771.97 1013.06L772.66 1013.58L773.36 1014.1L774.06 1014.63L774.76 1015.17L775.46 1015.71L776.16 1016.26L776.86 1016.82L777.56 1017.39L778.26 1017.96L778.96 1018.55L779.66 1019.13L780.35 1019.73L781.05 1020.33L781.75 1020.94L782.45 1021.56L783.15 1022.19L783.85 1022.82L784.55 1023.45L785.25 1024.1L785.95 1024.75L786.65 1025.41L787.35 1026.07L788.04 1026.74L788.74 1027.42L789.44 1028.1L790.14 1028.79L790.84 1029.48L791.54 1030.18L792.24 1030.89L792.94 1031.6L793.64 1032.32L794.34 1033.05L795.04 1033.78L795.73 1034.51L796.43 1035.25L797.13 1036L797.83 1036.75L798.53 1037.51L799.23 1038.27L799.93 1039.04L800.63 1039.81L801.33 1040.59L802.03 1041.37L802.73 1042.16L803.42 1042.95L804.12 1043.74L804.82 1044.55L805.52 1045.35L806.22 1046.16L806.92 1046.97L807.62 1047.79L808.32 1048.61L809.02 1049.44L809.72 1050.27L810.42 1051.1L811.11 1051.94L811.81 1052.78L812.51 1053.63L813.21 1054.48L813.91 1055.33L814.61 1056.18L815.31 1057.04L816.01 1057.9L816.71 1058.77L817.41 1059.63L818.11 1060.5L818.8 1061.38L819.5 1062.25L820.2 1063.13L820.9 1064.01L821.6 1064.9L822.3 1065.78L823 1066.67L823.7 1067.56L824.4 1068.45L825.1 1069.35L825.8 1070.25L826.49 1071.14L827.19 1072.04L827.89 1072.95L828.59 1073.85L829.29 1074.75L829.99 1075.66L830.69 1076.57L831.39 1077.47L832.09 1078.38L832.79 1079.3L833.49 1080.21L834.18 1081.12L834.88 1082.03L835.58 1082.95L836.28 1083.86L836.98 1084.78L837.68 1085.69L838.38 1086.61L839.08 1087.52L839.78 1088.44L840.48 1089.35L841.18 1090.27L841.87 1091.19L842.57 1092.1L843.27 1093.02L843.97 1093.93L844.67 1094.85L845.37 1095.76L846.07 1096.67L846.77 1097.58L847.47 1098.5L848.17 1099.41L848.87 1100.31L849.56 1101.22L850.26 1102.13L850.96 1103.04L851.66 1103.94L852.36 1104.84L853.06 1105.74L853.76 1106.64L854.46 1107.54L855.16 1108.44L855.86 1109.33L856.55 1110.22L857.25 1111.11L857.95 1112L858.65 1112.89L859.35 1113.77L860.05 1114.65L860.75 1115.53L861.45 1116.4L862.15 1117.28L862.85 1118.15L863.55 1119.01L864.24 1119.88L864.94 1120.74L865.64 1121.6L866.34 1122.45L867.04 1123.31L867.74 1124.16L868.44 1125L869.14 1125.84L869.84 1126.68L870.54 1127.51L871.24 1128.35L871.93 1129.17L872.63 1130L873.33 1130.81L874.03 1131.63L874.73 1132.44L875.43 1133.25L876.13 1134.05L876.83 1134.85L877.53 1135.64L878.23 1136.43L878.93 1137.22L879.62 1138L880.32 1138.77L881.02 1139.54L881.72 1140.31L882.42 1141.07L883.12 1141.82L883.82 1142.58L884.52 1143.32L885.22 1144.06L885.92 1144.8L886.62 1145.53L887.31 1146.25L888.01 1146.97L888.71 1147.68L889.41 1148.39L890.11 1149.09L890.81 1149.79L891.51 1150.48L892.21 1151.17L892.91 1151.85L893.61 1152.52L894.31 1153.19L895 1153.85L895.7 1154.5L896.4 1155.15L897.1 1155.79L897.8 1156.43L898.5 1157.06L899.2 1157.68L899.9 1158.3L900.6 1158.91L901.3 1159.51L902 1160.11L902.69 1160.7L903.39 1161.28L904.09 1161.86L904.79 1162.43L905.49 1162.99L906.19 1163.55L906.89 1164.09L907.59 1164.64L908.29 1165.17L908.99 1165.7L909.69 1166.22L910.38 1166.73L911.08 1167.24L911.78 1167.73L912.48 1168.23L913.18 1168.71L913.88 1169.19L914.58 1169.65L915.28 1170.12L915.98 1170.57L916.68 1171.01L917.38 1171.45L918.07 1171.88L918.77 1172.31L919.47 1172.72L920.17 1173.13L920.87 1173.53L921.57 1173.92L922.27 1174.3L922.97 1174.68L923.67 1175.05L924.37 1175.41L925.07 1175.76L925.76 1176.1L926.46 1176.44L927.16 1176.77L927.86 1177.09L928.56 1177.4L929.26 1177.7L929.96 1178L930.66 1178.28L931.36 1178.56L932.06 1178.83L932.76 1179.09L933.45 1179.35L934.15 1179.59L934.85 1179.83L935.55 1180.06L936.25 1180.28L936.95 1180.49L937.65 1180.7L938.35 1180.89L939.05 1181.08L939.75 1181.26L940.44 1181.43L941.14 1181.59L941.84 1181.74L942.54 1181.89L943.24 1182.02L943.94 1182.15L944.64 1182.27L945.34 1182.38L946.04 1182.49L946.74 1182.58L947.44 1182.67L948.13 1182.74L948.83 1182.81L949.53 1182.87L950.23 1182.92L950.93 1182.97L951.63 1183L952.33 1183.03L953.03 1183.05L953.73 1183.05L954.43 1183.06L955.13 1183.05L955.82 1183.03L956.52 1183.01L957.22 1182.97L957.92 1182.93L958.62 1182.88L959.32 1182.83L960.02 1182.76L960.72 1182.68L961.42 1182.6L962.12 1182.51L962.82 1182.41L963.51 1182.3L964.21 1182.18L964.91 1182.06L965.61 1181.93L966.31 1181.79L967.01 1181.64L967.71 1181.48L968.41 1181.31L969.11 1181.14L969.81 1180.96L970.51 1180.77L971.2 1180.57L971.9 1180.36L972.6 1180.15L973.3 1179.93L974 1179.7L974.7 1179.46" fill="none" stroke="#9D99C9" stroke-width="5.6" stroke-dasharray="16 16.63" stroke-dashoffset="7" stroke-linejoin="round"/>
<path d="M765.6 789.8H816.2" stroke="#248B48" stroke-width="5.6"/>
<path d="M766 845.8H816.6" stroke="#9D99C9" stroke-width="6" stroke-dasharray="8 11.4 11.4 11.4 8.4 100"/>
<g style="will-change:transform">
<text x="-2.70 19.10 46.70" y="44.00" font-size="66" font-style="normal" fill="#000">(a)</text>
<text x="93.70" y="55.50" font-size="52" font-style="normal" fill="#000">1</text>
<text x="53.75 79.00 91.55" y="165.50" font-size="52" font-style="normal" fill="#000">0.8</text>
<text x="52.75 78.00 90.75" y="277.50" font-size="52" font-style="normal" fill="#000">0.6</text>
<text x="52.45 77.70 89.60" y="389.00" font-size="52" font-style="normal" fill="#000">0.4</text>
<text x="52.80 78.00 90.50" y="500.70" font-size="52" font-style="normal" fill="#000">0.2</text>
<text x="90.70" y="611.40" font-size="52" font-style="normal" fill="#000">0</text>
<text x="104.70 131.20" y="661.60" font-size="52" font-style="normal" fill="#000">10</text>
<text x="157.80" y="643.80" font-size="28" font-style="normal" fill="#000" stroke="#000" stroke-width="0.55">0</text>
<text x="625.90 652.10" y="661.00" font-size="52" font-style="normal" fill="#000">10</text>
<text x="677.60" y="643.60" font-size="28" font-style="normal" fill="#000" stroke="#000" stroke-width="0.55">1</text>
<text x="948.50 974.35" y="661.50" font-size="52" font-style="normal" fill="#000">40</text>
<text x="538.80" y="689.20" font-size="50" font-style="italic" fill="#000">N</text>
<text x="819.00" y="102.00" font-size="41" font-style="normal" fill="#231815">1</text>
<text x="841.00" y="103.20" font-size="41" font-style="normal" fill="#231815">-</text>
<text x="857.00" y="103.00" font-size="43" font-style="italic" fill="#231815">P</text>
<text x="875.50 890.50" y="118.00" font-size="29" font-style="normal" fill="#231815" stroke="#231815" stroke-width="0.55">11</text>
<text x="824.50" y="167.00" font-size="41" font-style="normal" fill="#000">Φ</text>
<text x="855.00" y="173.50" font-size="53.5" font-style="normal" fill="#231815">/</text>
<text x="-2.55 18.95 50.40" y="741.50" font-size="66" font-style="normal" fill="#000">(b)</text>
<text x="97.80" y="754.00" font-size="52" font-style="normal" fill="#000">1</text>
<text x="58.00 83.50 95.00" y="930.50" font-size="52" font-style="normal" fill="#000">0.5</text>
<text x="94.50" y="1114.50" font-size="52" font-style="normal" fill="#000">0</text>
<text x="41.30 58.10 83.50 94.80" y="1296.40" font-size="52" font-style="normal" fill="#000">-0.5</text>
<text x="124.10" y="1339.00" font-size="52" font-style="normal" fill="#000">0</text>
<text x="264.00" y="1339.00" font-size="52" font-style="normal" fill="#000">2</text>
<text x="402.00" y="1339.60" font-size="52" font-style="normal" fill="#000">4</text>
<text x="542.00" y="1339.00" font-size="52" font-style="normal" fill="#000">6</text>
<text x="681.10" y="1339.00" font-size="52" font-style="normal" fill="#000">8</text>
<text x="809.00 835.30" y="1339.00" font-size="52" font-style="normal" fill="#000">10</text>
<text x="950.00 975.00" y="1339.00" font-size="52" font-style="normal" fill="#000">12</text>
<text x="842.70" y="811.80" font-size="27" font-style="normal" fill="#000" stroke="#000" stroke-width="0.55">0</text>
<text x="842.70" y="868.80" font-size="27" font-style="normal" fill="#000" stroke="#000" stroke-width="0.55">1</text>
</g>
<path d="M558.3 1354C549 1354 543.5 1365 543.5 1373.5C543.5 1380.5 547.5 1384.6 552.5 1384.6C558 1384.6 562.5 1381 566.5 1376.5L568 1372C568.3 1364 565.5 1354 558.3 1354ZM557.6 1356C552.5 1356 548 1366 548 1373C548 1378.5 550 1381.6 553.5 1381.6C557 1381.6 560.5 1379.5 563.2 1376.2L563.6 1368C563.4 1361 561.3 1356 557.6 1356Z" fill="#000" fill-rule="evenodd"/><path d="M568.74 1372.57L574.28 1357.93L572.72 1357.27L566.06 1371.43Z" fill="#000"/><circle cx="573.5" cy="1357.6" r="0.85" fill="#000"/><path d="M567.1 1374C567.4 1382.6 569 1383.4 570.5 1383C571.8 1382.6 572.7 1381 573.3 1379" fill="none" stroke="#000" stroke-width="2.8" stroke-linecap="round"/><path d="M839.1 775.9 L851.8 775.9 L851.5 778 L839.4 778 Z" fill="#000"/><path d="M842.4 777.6 L847.9 777.6 L842.3 795 C840.6 799.9 837 802.7 832.2 802.7 C829.8 802.7 827.9 802.1 826.5 801 L828.4 799.9 C829.7 800.5 831 800.7 832.4 800.7 C835.3 800.7 836.6 798.2 837.4 795.4 Z" fill="#000"/><circle cx="827.4" cy="798.3" r="2.6" fill="#000"/><path d="M839.1 832.9 L851.8 832.9 L851.5 835 L839.4 835 Z" fill="#000"/><path d="M842.4 834.6 L847.9 834.6 L842.3 852 C840.6 856.9 837 859.7 832.2 859.7 C829.8 859.7 827.9 859.1 826.5 858 L828.4 856.9 C829.7 857.5 831 857.7 832.4 857.7 C835.3 857.7 836.6 855.2 837.4 852.4 Z" fill="#000"/><circle cx="827.4" cy="855.3" r="2.6" fill="#000"/><path d="M8.1 1019.8 L9.9 1019.8 L9.9 1031.8 L8.1 1031.8 Z" fill="#000"/><path d="M9.6 1023.1 L36 1028.1 C39.6 1028.9 42.9 1031.5 42.9 1036.6 C42.9 1040.6 40.6 1043.1 37.4 1043.1 C35.8 1043.1 34.6 1042.6 33.9 1041.7 L36.2 1040.9 C36.9 1041.2 37.4 1041.3 38 1041.3 C39.8 1041.3 40.9 1039.5 40.9 1036.9 C40.9 1033.8 38.7 1032.1 35.6 1031.6 L9.6 1026.5 Z" fill="#000"/><circle cx="36.4" cy="1040.3" r="2.6" fill="#000"/><path d="M35.2 1018.9 L49.8 1021.2" stroke="#000" stroke-width="2.3" fill="none"/><path d="M35.6 1016.8 L35.6 1021.4" stroke="#000" stroke-width="1.6" fill="none"/><path d="M49.8 1021.2 C48.6 1015.6 43.5 1010.2 34.9 1008.5" stroke="#000" stroke-width="1.7" fill="none" stroke-linecap="round"/><path d="M4.4 959.0 C14 948.0 45.2 948.0 54.8 959.0 L54.4 960.0 C44.8 950.2 14.4 950.2 4.8 960.0 Z" fill="#000"/><path d="M4.4 991.6 C14 1002.6 45.2 1002.6 54.8 991.6 L54.4 990.6 C44.8 1000.4 14.4 1000.4 4.8 990.6 Z" fill="#000"/><path d="M20.26 975.95C20.26 982.83 28.4 986.9 34.69 986.9C39.87 986.9 42.9 983.94 42.9 980.24C42.9 976.17 40.24 972.84 36.91 969.88L33.58 968.77C27.66 968.55 20.26 970.62 20.26 975.95ZM21.74 976.47C21.74 980.24 29.14 983.57 34.32 983.57C38.39 983.57 40.68 982.09 40.68 979.5C40.68 976.91 39.13 974.32 36.68 972.32L30.62 972.03C25.44 972.17 21.74 973.73 21.74 976.47Z" fill="#000" fill-rule="evenodd"/><path d="M33.99 968.23L23.17 964.12L22.67 965.28L33.16 970.2Z" fill="#000"/><circle cx="22.92" cy="964.7" r="0.63" fill="#000"/><path d="M35.06 969.44C41.42 969.21 42.01 968.03 41.72 966.92C41.42 965.96 40.24 965.29 38.76 964.85" fill="none" stroke="#000" stroke-width="2.07" stroke-linecap="round"/><path d="M873.6 153.7 Q876.6 149.6 880.2 148.6 L899.9 148.6" stroke="#000" stroke-width="2.9" fill="none" stroke-linecap="round"/><path d="M883.3 149.6 L885.8 149.6 L880.6 166.6 C879.9 168.4 877.4 168.5 876.9 166.8 Z" fill="#000"/><path d="M890.1 149.6 L892.5 149.6 C891.4 154.8 891.0 159.2 891.9 162.6 C892.7 165.4 892.4 167.9 890.6 168.0 C888.7 168.1 888.3 165.6 888.5 162.2 C888.7 157.2 889.3 153.4 890.1 149.6 Z" fill="#000"/>
</svg></body></html>
